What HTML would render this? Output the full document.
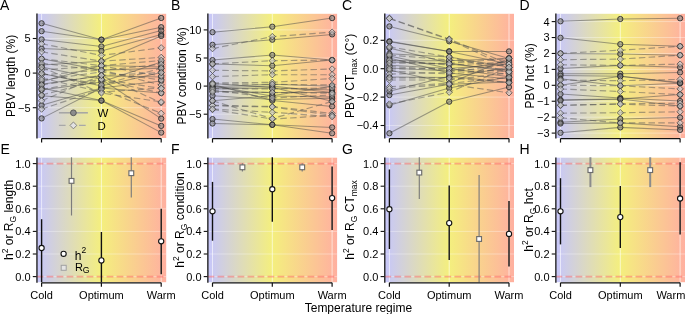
<!DOCTYPE html>
<html><head><meta charset="utf-8"><style>
html,body{margin:0;padding:0;background:#fff;overflow:hidden;}
svg{display:block;will-change:transform;}
text{fill:#000;}
</style></head><body>
<svg width="685" height="314" viewBox="0 0 685 314" font-family='"Liberation Sans", sans-serif'>
<defs>
<linearGradient id="bg" x1="0" y1="0" x2="1" y2="0"><stop offset="0" stop-color="rgb(198,198,252)"/><stop offset="0.5" stop-color="rgb(244,239,126)"/><stop offset="1" stop-color="rgb(255,176,160)"/></linearGradient>
</defs>
<rect width="685" height="314" fill="#fff"/>
<rect x="36.6" y="13.8" width="129.6" height="124.2" fill="url(#bg)"/>
<line x1="36.6" x2="166.2" y1="38.5" y2="38.5" stroke="#fff" stroke-opacity="0.35" stroke-width="1"/>
<line x1="36.6" x2="166.2" y1="73.1" y2="73.1" stroke="#fff" stroke-opacity="0.35" stroke-width="1"/>
<line x1="36.6" x2="166.2" y1="107.69999999999999" y2="107.69999999999999" stroke="#fff" stroke-opacity="0.35" stroke-width="1"/>
<line x1="41.6" x2="41.6" y1="13.8" y2="138.0" stroke="#fff" stroke-opacity="0.6" stroke-width="1"/>
<line x1="101.4" x2="101.4" y1="13.8" y2="138.0" stroke="#fff" stroke-opacity="0.6" stroke-width="1"/>
<line x1="161.2" x2="161.2" y1="13.8" y2="138.0" stroke="#fff" stroke-opacity="0.6" stroke-width="1"/>
<rect x="207.5" y="13.8" width="129.6" height="124.2" fill="url(#bg)"/>
<line x1="207.5" x2="337.1" y1="29.89999999999999" y2="29.89999999999999" stroke="#fff" stroke-opacity="0.35" stroke-width="1"/>
<line x1="207.5" x2="337.1" y1="57.99999999999999" y2="57.99999999999999" stroke="#fff" stroke-opacity="0.35" stroke-width="1"/>
<line x1="207.5" x2="337.1" y1="86.1" y2="86.1" stroke="#fff" stroke-opacity="0.35" stroke-width="1"/>
<line x1="207.5" x2="337.1" y1="114.19999999999999" y2="114.19999999999999" stroke="#fff" stroke-opacity="0.35" stroke-width="1"/>
<line x1="212.5" x2="212.5" y1="13.8" y2="138.0" stroke="#fff" stroke-opacity="0.6" stroke-width="1"/>
<line x1="272.3" x2="272.3" y1="13.8" y2="138.0" stroke="#fff" stroke-opacity="0.6" stroke-width="1"/>
<line x1="332.1" x2="332.1" y1="13.8" y2="138.0" stroke="#fff" stroke-opacity="0.6" stroke-width="1"/>
<rect x="384.4" y="13.8" width="129.6" height="124.2" fill="url(#bg)"/>
<line x1="384.4" x2="514.0" y1="40.3" y2="40.3" stroke="#fff" stroke-opacity="0.35" stroke-width="1"/>
<line x1="384.4" x2="514.0" y1="68.69999999999999" y2="68.69999999999999" stroke="#fff" stroke-opacity="0.35" stroke-width="1"/>
<line x1="384.4" x2="514.0" y1="97.1" y2="97.1" stroke="#fff" stroke-opacity="0.35" stroke-width="1"/>
<line x1="384.4" x2="514.0" y1="125.5" y2="125.5" stroke="#fff" stroke-opacity="0.35" stroke-width="1"/>
<line x1="389.4" x2="389.4" y1="13.8" y2="138.0" stroke="#fff" stroke-opacity="0.6" stroke-width="1"/>
<line x1="449.2" x2="449.2" y1="13.8" y2="138.0" stroke="#fff" stroke-opacity="0.6" stroke-width="1"/>
<line x1="509.0" x2="509.0" y1="13.8" y2="138.0" stroke="#fff" stroke-opacity="0.6" stroke-width="1"/>
<rect x="555.5" y="13.8" width="129.6" height="124.2" fill="url(#bg)"/>
<line x1="555.5" x2="685.1" y1="21.6" y2="21.6" stroke="#fff" stroke-opacity="0.35" stroke-width="1"/>
<line x1="555.5" x2="685.1" y1="37.52857142857143" y2="37.52857142857143" stroke="#fff" stroke-opacity="0.35" stroke-width="1"/>
<line x1="555.5" x2="685.1" y1="53.457142857142856" y2="53.457142857142856" stroke="#fff" stroke-opacity="0.35" stroke-width="1"/>
<line x1="555.5" x2="685.1" y1="69.38571428571429" y2="69.38571428571429" stroke="#fff" stroke-opacity="0.35" stroke-width="1"/>
<line x1="555.5" x2="685.1" y1="85.31428571428572" y2="85.31428571428572" stroke="#fff" stroke-opacity="0.35" stroke-width="1"/>
<line x1="555.5" x2="685.1" y1="101.24285714285713" y2="101.24285714285713" stroke="#fff" stroke-opacity="0.35" stroke-width="1"/>
<line x1="555.5" x2="685.1" y1="117.17142857142858" y2="117.17142857142858" stroke="#fff" stroke-opacity="0.35" stroke-width="1"/>
<line x1="555.5" x2="685.1" y1="133.1" y2="133.1" stroke="#fff" stroke-opacity="0.35" stroke-width="1"/>
<line x1="560.5" x2="560.5" y1="13.8" y2="138.0" stroke="#fff" stroke-opacity="0.6" stroke-width="1"/>
<line x1="620.3" x2="620.3" y1="13.8" y2="138.0" stroke="#fff" stroke-opacity="0.6" stroke-width="1"/>
<line x1="680.1" x2="680.1" y1="13.8" y2="138.0" stroke="#fff" stroke-opacity="0.6" stroke-width="1"/>
<rect x="36.6" y="157.7" width="129.6" height="124.5" fill="url(#bg)"/>
<line x1="36.6" x2="166.2" y1="163.6" y2="163.6" stroke="#fff" stroke-opacity="0.35" stroke-width="1"/>
<line x1="36.6" x2="166.2" y1="186.2" y2="186.2" stroke="#fff" stroke-opacity="0.35" stroke-width="1"/>
<line x1="36.6" x2="166.2" y1="208.8" y2="208.8" stroke="#fff" stroke-opacity="0.35" stroke-width="1"/>
<line x1="36.6" x2="166.2" y1="231.4" y2="231.4" stroke="#fff" stroke-opacity="0.35" stroke-width="1"/>
<line x1="36.6" x2="166.2" y1="254.0" y2="254.0" stroke="#fff" stroke-opacity="0.35" stroke-width="1"/>
<line x1="36.6" x2="166.2" y1="276.6" y2="276.6" stroke="#fff" stroke-opacity="0.35" stroke-width="1"/>
<line x1="41.6" x2="41.6" y1="157.7" y2="282.2" stroke="#fff" stroke-opacity="0.6" stroke-width="1"/>
<line x1="101.4" x2="101.4" y1="157.7" y2="282.2" stroke="#fff" stroke-opacity="0.6" stroke-width="1"/>
<line x1="161.2" x2="161.2" y1="157.7" y2="282.2" stroke="#fff" stroke-opacity="0.6" stroke-width="1"/>
<rect x="207.5" y="157.7" width="129.6" height="124.5" fill="url(#bg)"/>
<line x1="207.5" x2="337.1" y1="163.6" y2="163.6" stroke="#fff" stroke-opacity="0.35" stroke-width="1"/>
<line x1="207.5" x2="337.1" y1="186.2" y2="186.2" stroke="#fff" stroke-opacity="0.35" stroke-width="1"/>
<line x1="207.5" x2="337.1" y1="208.8" y2="208.8" stroke="#fff" stroke-opacity="0.35" stroke-width="1"/>
<line x1="207.5" x2="337.1" y1="231.4" y2="231.4" stroke="#fff" stroke-opacity="0.35" stroke-width="1"/>
<line x1="207.5" x2="337.1" y1="254.0" y2="254.0" stroke="#fff" stroke-opacity="0.35" stroke-width="1"/>
<line x1="207.5" x2="337.1" y1="276.6" y2="276.6" stroke="#fff" stroke-opacity="0.35" stroke-width="1"/>
<line x1="212.5" x2="212.5" y1="157.7" y2="282.2" stroke="#fff" stroke-opacity="0.6" stroke-width="1"/>
<line x1="272.3" x2="272.3" y1="157.7" y2="282.2" stroke="#fff" stroke-opacity="0.6" stroke-width="1"/>
<line x1="332.1" x2="332.1" y1="157.7" y2="282.2" stroke="#fff" stroke-opacity="0.6" stroke-width="1"/>
<rect x="384.4" y="157.7" width="129.6" height="124.5" fill="url(#bg)"/>
<line x1="384.4" x2="514.0" y1="163.6" y2="163.6" stroke="#fff" stroke-opacity="0.35" stroke-width="1"/>
<line x1="384.4" x2="514.0" y1="186.2" y2="186.2" stroke="#fff" stroke-opacity="0.35" stroke-width="1"/>
<line x1="384.4" x2="514.0" y1="208.8" y2="208.8" stroke="#fff" stroke-opacity="0.35" stroke-width="1"/>
<line x1="384.4" x2="514.0" y1="231.4" y2="231.4" stroke="#fff" stroke-opacity="0.35" stroke-width="1"/>
<line x1="384.4" x2="514.0" y1="254.0" y2="254.0" stroke="#fff" stroke-opacity="0.35" stroke-width="1"/>
<line x1="384.4" x2="514.0" y1="276.6" y2="276.6" stroke="#fff" stroke-opacity="0.35" stroke-width="1"/>
<line x1="389.4" x2="389.4" y1="157.7" y2="282.2" stroke="#fff" stroke-opacity="0.6" stroke-width="1"/>
<line x1="449.2" x2="449.2" y1="157.7" y2="282.2" stroke="#fff" stroke-opacity="0.6" stroke-width="1"/>
<line x1="509.0" x2="509.0" y1="157.7" y2="282.2" stroke="#fff" stroke-opacity="0.6" stroke-width="1"/>
<rect x="555.5" y="157.7" width="129.6" height="124.5" fill="url(#bg)"/>
<line x1="555.5" x2="685.1" y1="163.6" y2="163.6" stroke="#fff" stroke-opacity="0.35" stroke-width="1"/>
<line x1="555.5" x2="685.1" y1="186.2" y2="186.2" stroke="#fff" stroke-opacity="0.35" stroke-width="1"/>
<line x1="555.5" x2="685.1" y1="208.8" y2="208.8" stroke="#fff" stroke-opacity="0.35" stroke-width="1"/>
<line x1="555.5" x2="685.1" y1="231.4" y2="231.4" stroke="#fff" stroke-opacity="0.35" stroke-width="1"/>
<line x1="555.5" x2="685.1" y1="254.0" y2="254.0" stroke="#fff" stroke-opacity="0.35" stroke-width="1"/>
<line x1="555.5" x2="685.1" y1="276.6" y2="276.6" stroke="#fff" stroke-opacity="0.35" stroke-width="1"/>
<line x1="560.5" x2="560.5" y1="157.7" y2="282.2" stroke="#fff" stroke-opacity="0.6" stroke-width="1"/>
<line x1="620.3" x2="620.3" y1="157.7" y2="282.2" stroke="#fff" stroke-opacity="0.6" stroke-width="1"/>
<line x1="680.1" x2="680.1" y1="157.7" y2="282.2" stroke="#fff" stroke-opacity="0.6" stroke-width="1"/>
<g>
<polyline points="41.6,75 101.4,70 161.2,85" stroke="#555" stroke-opacity="0.5" stroke-width="1.15" fill="none" stroke-dasharray="6.5 3.3"/>
<polyline points="41.6,78 101.4,92 161.2,88" stroke="#555" stroke-opacity="0.5" stroke-width="1.15" fill="none" stroke-dasharray="6.5 3.3"/>
<polyline points="41.6,80 101.4,72 161.2,80" stroke="#555" stroke-opacity="0.5" stroke-width="1.15" fill="none" stroke-dasharray="6.5 3.3"/>
<polyline points="41.6,70 101.4,66 161.2,76" stroke="#555" stroke-opacity="0.5" stroke-width="1.15" fill="none" stroke-dasharray="6.5 3.3"/>
<polyline points="41.6,95 101.4,80 161.2,93" stroke="#555" stroke-opacity="0.5" stroke-width="1.15" fill="none" stroke-dasharray="6.5 3.3"/>
<polyline points="41.6,43.8 101.4,55.4 161.2,47.8" stroke="#555" stroke-opacity="0.5" stroke-width="1.15" fill="none" stroke-dasharray="6.5 3.3"/>
<polyline points="41.6,51.8 101.4,61.2 161.2,57.4" stroke="#555" stroke-opacity="0.5" stroke-width="1.15" fill="none" stroke-dasharray="6.5 3.3"/>
<polyline points="41.6,58.8 101.4,65.6 161.2,60.5" stroke="#555" stroke-opacity="0.5" stroke-width="1.15" fill="none" stroke-dasharray="6.5 3.3"/>
<polyline points="41.6,63.3 101.4,70.3 161.2,64.3" stroke="#555" stroke-opacity="0.5" stroke-width="1.15" fill="none" stroke-dasharray="6.5 3.3"/>
<polyline points="41.6,73.4 101.4,84.9 161.2,68.2" stroke="#555" stroke-opacity="0.5" stroke-width="1.15" fill="none" stroke-dasharray="6.5 3.3"/>
<polyline points="41.6,84.9 101.4,75.4 161.2,72.6" stroke="#555" stroke-opacity="0.5" stroke-width="1.15" fill="none" stroke-dasharray="6.5 3.3"/>
<polyline points="41.6,89.4 101.4,79.2 161.2,88.5" stroke="#555" stroke-opacity="0.5" stroke-width="1.15" fill="none" stroke-dasharray="6.5 3.3"/>
<polyline points="41.6,100.8 101.4,75.4 161.2,102.8" stroke="#555" stroke-opacity="0.5" stroke-width="1.15" fill="none" stroke-dasharray="6.5 3.3"/>
<polyline points="41.6,109.1 101.4,89.2 161.2,113.3" stroke="#555" stroke-opacity="0.5" stroke-width="1.15" fill="none" stroke-dasharray="6.5 3.3"/>
<polyline points="41.6,67.1 101.4,93 161.2,101.9" stroke="#555" stroke-opacity="0.5" stroke-width="1.15" fill="none" stroke-dasharray="6.5 3.3"/>
<polyline points="41.6,90 101.4,82 161.2,62" stroke="#4a4a4a" stroke-opacity="0.5" stroke-width="1.05" fill="none"/>
<polyline points="41.6,23.3 101.4,39.7 161.2,18" stroke="#4a4a4a" stroke-opacity="0.5" stroke-width="1.05" fill="none"/>
<polyline points="41.6,31.2 101.4,39.7 161.2,27.2" stroke="#4a4a4a" stroke-opacity="0.5" stroke-width="1.05" fill="none"/>
<polyline points="41.6,39.4 101.4,46.5 161.2,30.6" stroke="#4a4a4a" stroke-opacity="0.5" stroke-width="1.05" fill="none"/>
<polyline points="41.6,48.6 101.4,51 161.2,34.5" stroke="#4a4a4a" stroke-opacity="0.5" stroke-width="1.05" fill="none"/>
<polyline points="41.6,65 101.4,61.2 161.2,36" stroke="#4a4a4a" stroke-opacity="0.5" stroke-width="1.05" fill="none"/>
<polyline points="41.6,81.7 101.4,65.6 161.2,66.9" stroke="#4a4a4a" stroke-opacity="0.5" stroke-width="1.05" fill="none"/>
<polyline points="41.6,84.3 101.4,75.8 161.2,77.1" stroke="#4a4a4a" stroke-opacity="0.5" stroke-width="1.05" fill="none"/>
<polyline points="41.6,95.7 101.4,100.6 161.2,125.9" stroke="#4a4a4a" stroke-opacity="0.5" stroke-width="1.05" fill="none"/>
<polyline points="41.6,88 101.4,100.6 161.2,132.6" stroke="#4a4a4a" stroke-opacity="0.5" stroke-width="1.05" fill="none"/>
<polyline points="41.6,118.4 101.4,88 161.2,80.9" stroke="#4a4a4a" stroke-opacity="0.5" stroke-width="1.05" fill="none"/>
<polyline points="41.6,105.3 101.4,88 161.2,93" stroke="#4a4a4a" stroke-opacity="0.5" stroke-width="1.05" fill="none"/>
<polyline points="41.6,67.1 101.4,79.2 161.2,118.6" stroke="#4a4a4a" stroke-opacity="0.5" stroke-width="1.05" fill="none"/>
<polyline points="41.6,73.4 101.4,86 161.2,72.6" stroke="#4a4a4a" stroke-opacity="0.5" stroke-width="1.05" fill="none"/>
<polyline points="41.6,58.8 101.4,70.1 161.2,68.3" stroke="#4a4a4a" stroke-opacity="0.5" stroke-width="1.05" fill="none"/>
<circle cx="41.6" cy="90" r="2.65" fill="#7a7a7a" fill-opacity="0.55" stroke="#2a2a2a" stroke-opacity="0.85" stroke-width="1"/>
<circle cx="101.4" cy="82" r="2.65" fill="#7a7a7a" fill-opacity="0.55" stroke="#2a2a2a" stroke-opacity="0.85" stroke-width="1"/>
<circle cx="161.2" cy="62" r="2.65" fill="#7a7a7a" fill-opacity="0.55" stroke="#2a2a2a" stroke-opacity="0.85" stroke-width="1"/>
<circle cx="41.6" cy="23.3" r="2.65" fill="#7a7a7a" fill-opacity="0.55" stroke="#2a2a2a" stroke-opacity="0.85" stroke-width="1"/>
<circle cx="101.4" cy="39.7" r="2.65" fill="#7a7a7a" fill-opacity="0.55" stroke="#2a2a2a" stroke-opacity="0.85" stroke-width="1"/>
<circle cx="161.2" cy="18" r="2.65" fill="#7a7a7a" fill-opacity="0.55" stroke="#2a2a2a" stroke-opacity="0.85" stroke-width="1"/>
<circle cx="41.6" cy="31.2" r="2.65" fill="#7a7a7a" fill-opacity="0.55" stroke="#2a2a2a" stroke-opacity="0.85" stroke-width="1"/>
<circle cx="101.4" cy="39.7" r="2.65" fill="#7a7a7a" fill-opacity="0.55" stroke="#2a2a2a" stroke-opacity="0.85" stroke-width="1"/>
<circle cx="161.2" cy="27.2" r="2.65" fill="#7a7a7a" fill-opacity="0.55" stroke="#2a2a2a" stroke-opacity="0.85" stroke-width="1"/>
<circle cx="41.6" cy="39.4" r="2.65" fill="#7a7a7a" fill-opacity="0.55" stroke="#2a2a2a" stroke-opacity="0.85" stroke-width="1"/>
<circle cx="101.4" cy="46.5" r="2.65" fill="#7a7a7a" fill-opacity="0.55" stroke="#2a2a2a" stroke-opacity="0.85" stroke-width="1"/>
<circle cx="161.2" cy="30.6" r="2.65" fill="#7a7a7a" fill-opacity="0.55" stroke="#2a2a2a" stroke-opacity="0.85" stroke-width="1"/>
<circle cx="41.6" cy="48.6" r="2.65" fill="#7a7a7a" fill-opacity="0.55" stroke="#2a2a2a" stroke-opacity="0.85" stroke-width="1"/>
<circle cx="101.4" cy="51" r="2.65" fill="#7a7a7a" fill-opacity="0.55" stroke="#2a2a2a" stroke-opacity="0.85" stroke-width="1"/>
<circle cx="161.2" cy="34.5" r="2.65" fill="#7a7a7a" fill-opacity="0.55" stroke="#2a2a2a" stroke-opacity="0.85" stroke-width="1"/>
<circle cx="41.6" cy="65" r="2.65" fill="#7a7a7a" fill-opacity="0.55" stroke="#2a2a2a" stroke-opacity="0.85" stroke-width="1"/>
<circle cx="101.4" cy="61.2" r="2.65" fill="#7a7a7a" fill-opacity="0.55" stroke="#2a2a2a" stroke-opacity="0.85" stroke-width="1"/>
<circle cx="161.2" cy="36" r="2.65" fill="#7a7a7a" fill-opacity="0.55" stroke="#2a2a2a" stroke-opacity="0.85" stroke-width="1"/>
<circle cx="41.6" cy="81.7" r="2.65" fill="#7a7a7a" fill-opacity="0.55" stroke="#2a2a2a" stroke-opacity="0.85" stroke-width="1"/>
<circle cx="101.4" cy="65.6" r="2.65" fill="#7a7a7a" fill-opacity="0.55" stroke="#2a2a2a" stroke-opacity="0.85" stroke-width="1"/>
<circle cx="161.2" cy="66.9" r="2.65" fill="#7a7a7a" fill-opacity="0.55" stroke="#2a2a2a" stroke-opacity="0.85" stroke-width="1"/>
<circle cx="41.6" cy="84.3" r="2.65" fill="#7a7a7a" fill-opacity="0.55" stroke="#2a2a2a" stroke-opacity="0.85" stroke-width="1"/>
<circle cx="101.4" cy="75.8" r="2.65" fill="#7a7a7a" fill-opacity="0.55" stroke="#2a2a2a" stroke-opacity="0.85" stroke-width="1"/>
<circle cx="161.2" cy="77.1" r="2.65" fill="#7a7a7a" fill-opacity="0.55" stroke="#2a2a2a" stroke-opacity="0.85" stroke-width="1"/>
<circle cx="41.6" cy="95.7" r="2.65" fill="#7a7a7a" fill-opacity="0.55" stroke="#2a2a2a" stroke-opacity="0.85" stroke-width="1"/>
<circle cx="101.4" cy="100.6" r="2.65" fill="#7a7a7a" fill-opacity="0.55" stroke="#2a2a2a" stroke-opacity="0.85" stroke-width="1"/>
<circle cx="161.2" cy="125.9" r="2.65" fill="#7a7a7a" fill-opacity="0.55" stroke="#2a2a2a" stroke-opacity="0.85" stroke-width="1"/>
<circle cx="41.6" cy="88" r="2.65" fill="#7a7a7a" fill-opacity="0.55" stroke="#2a2a2a" stroke-opacity="0.85" stroke-width="1"/>
<circle cx="101.4" cy="100.6" r="2.65" fill="#7a7a7a" fill-opacity="0.55" stroke="#2a2a2a" stroke-opacity="0.85" stroke-width="1"/>
<circle cx="161.2" cy="132.6" r="2.65" fill="#7a7a7a" fill-opacity="0.55" stroke="#2a2a2a" stroke-opacity="0.85" stroke-width="1"/>
<circle cx="41.6" cy="118.4" r="2.65" fill="#7a7a7a" fill-opacity="0.55" stroke="#2a2a2a" stroke-opacity="0.85" stroke-width="1"/>
<circle cx="101.4" cy="88" r="2.65" fill="#7a7a7a" fill-opacity="0.55" stroke="#2a2a2a" stroke-opacity="0.85" stroke-width="1"/>
<circle cx="161.2" cy="80.9" r="2.65" fill="#7a7a7a" fill-opacity="0.55" stroke="#2a2a2a" stroke-opacity="0.85" stroke-width="1"/>
<circle cx="41.6" cy="105.3" r="2.65" fill="#7a7a7a" fill-opacity="0.55" stroke="#2a2a2a" stroke-opacity="0.85" stroke-width="1"/>
<circle cx="101.4" cy="88" r="2.65" fill="#7a7a7a" fill-opacity="0.55" stroke="#2a2a2a" stroke-opacity="0.85" stroke-width="1"/>
<circle cx="161.2" cy="93" r="2.65" fill="#7a7a7a" fill-opacity="0.55" stroke="#2a2a2a" stroke-opacity="0.85" stroke-width="1"/>
<circle cx="41.6" cy="67.1" r="2.65" fill="#7a7a7a" fill-opacity="0.55" stroke="#2a2a2a" stroke-opacity="0.85" stroke-width="1"/>
<circle cx="101.4" cy="79.2" r="2.65" fill="#7a7a7a" fill-opacity="0.55" stroke="#2a2a2a" stroke-opacity="0.85" stroke-width="1"/>
<circle cx="161.2" cy="118.6" r="2.65" fill="#7a7a7a" fill-opacity="0.55" stroke="#2a2a2a" stroke-opacity="0.85" stroke-width="1"/>
<circle cx="41.6" cy="73.4" r="2.65" fill="#7a7a7a" fill-opacity="0.55" stroke="#2a2a2a" stroke-opacity="0.85" stroke-width="1"/>
<circle cx="101.4" cy="86" r="2.65" fill="#7a7a7a" fill-opacity="0.55" stroke="#2a2a2a" stroke-opacity="0.85" stroke-width="1"/>
<circle cx="161.2" cy="72.6" r="2.65" fill="#7a7a7a" fill-opacity="0.55" stroke="#2a2a2a" stroke-opacity="0.85" stroke-width="1"/>
<circle cx="41.6" cy="58.8" r="2.65" fill="#7a7a7a" fill-opacity="0.55" stroke="#2a2a2a" stroke-opacity="0.85" stroke-width="1"/>
<circle cx="101.4" cy="70.1" r="2.65" fill="#7a7a7a" fill-opacity="0.55" stroke="#2a2a2a" stroke-opacity="0.85" stroke-width="1"/>
<circle cx="161.2" cy="68.3" r="2.65" fill="#7a7a7a" fill-opacity="0.55" stroke="#2a2a2a" stroke-opacity="0.85" stroke-width="1"/>
<path d="M41.6 71.8L44.8 75L41.6 78.2L38.4 75Z" fill="#c4c4c4" fill-opacity="0.6" stroke="#383838" stroke-opacity="0.75" stroke-width="0.9"/>
<path d="M101.4 66.8L104.6 70L101.4 73.2L98.2 70Z" fill="#c4c4c4" fill-opacity="0.6" stroke="#383838" stroke-opacity="0.75" stroke-width="0.9"/>
<path d="M161.2 81.8L164.4 85L161.2 88.2L158 85Z" fill="#c4c4c4" fill-opacity="0.6" stroke="#383838" stroke-opacity="0.75" stroke-width="0.9"/>
<path d="M41.6 74.8L44.8 78L41.6 81.2L38.4 78Z" fill="#c4c4c4" fill-opacity="0.6" stroke="#383838" stroke-opacity="0.75" stroke-width="0.9"/>
<path d="M101.4 88.8L104.6 92L101.4 95.2L98.2 92Z" fill="#c4c4c4" fill-opacity="0.6" stroke="#383838" stroke-opacity="0.75" stroke-width="0.9"/>
<path d="M161.2 84.8L164.4 88L161.2 91.2L158 88Z" fill="#c4c4c4" fill-opacity="0.6" stroke="#383838" stroke-opacity="0.75" stroke-width="0.9"/>
<path d="M41.6 76.8L44.8 80L41.6 83.2L38.4 80Z" fill="#c4c4c4" fill-opacity="0.6" stroke="#383838" stroke-opacity="0.75" stroke-width="0.9"/>
<path d="M101.4 68.8L104.6 72L101.4 75.2L98.2 72Z" fill="#c4c4c4" fill-opacity="0.6" stroke="#383838" stroke-opacity="0.75" stroke-width="0.9"/>
<path d="M161.2 76.8L164.4 80L161.2 83.2L158 80Z" fill="#c4c4c4" fill-opacity="0.6" stroke="#383838" stroke-opacity="0.75" stroke-width="0.9"/>
<path d="M41.6 66.8L44.8 70L41.6 73.2L38.4 70Z" fill="#c4c4c4" fill-opacity="0.6" stroke="#383838" stroke-opacity="0.75" stroke-width="0.9"/>
<path d="M101.4 62.8L104.6 66L101.4 69.2L98.2 66Z" fill="#c4c4c4" fill-opacity="0.6" stroke="#383838" stroke-opacity="0.75" stroke-width="0.9"/>
<path d="M161.2 72.8L164.4 76L161.2 79.2L158 76Z" fill="#c4c4c4" fill-opacity="0.6" stroke="#383838" stroke-opacity="0.75" stroke-width="0.9"/>
<path d="M41.6 91.8L44.8 95L41.6 98.2L38.4 95Z" fill="#c4c4c4" fill-opacity="0.6" stroke="#383838" stroke-opacity="0.75" stroke-width="0.9"/>
<path d="M101.4 76.8L104.6 80L101.4 83.2L98.2 80Z" fill="#c4c4c4" fill-opacity="0.6" stroke="#383838" stroke-opacity="0.75" stroke-width="0.9"/>
<path d="M161.2 89.8L164.4 93L161.2 96.2L158 93Z" fill="#c4c4c4" fill-opacity="0.6" stroke="#383838" stroke-opacity="0.75" stroke-width="0.9"/>
<path d="M41.6 40.6L44.8 43.8L41.6 47L38.4 43.8Z" fill="#c4c4c4" fill-opacity="0.6" stroke="#383838" stroke-opacity="0.75" stroke-width="0.9"/>
<path d="M101.4 52.2L104.6 55.4L101.4 58.6L98.2 55.4Z" fill="#c4c4c4" fill-opacity="0.6" stroke="#383838" stroke-opacity="0.75" stroke-width="0.9"/>
<path d="M161.2 44.6L164.4 47.8L161.2 51L158 47.8Z" fill="#c4c4c4" fill-opacity="0.6" stroke="#383838" stroke-opacity="0.75" stroke-width="0.9"/>
<path d="M41.6 48.6L44.8 51.8L41.6 55L38.4 51.8Z" fill="#c4c4c4" fill-opacity="0.6" stroke="#383838" stroke-opacity="0.75" stroke-width="0.9"/>
<path d="M101.4 58L104.6 61.2L101.4 64.4L98.2 61.2Z" fill="#c4c4c4" fill-opacity="0.6" stroke="#383838" stroke-opacity="0.75" stroke-width="0.9"/>
<path d="M161.2 54.2L164.4 57.4L161.2 60.6L158 57.4Z" fill="#c4c4c4" fill-opacity="0.6" stroke="#383838" stroke-opacity="0.75" stroke-width="0.9"/>
<path d="M41.6 55.6L44.8 58.8L41.6 62L38.4 58.8Z" fill="#c4c4c4" fill-opacity="0.6" stroke="#383838" stroke-opacity="0.75" stroke-width="0.9"/>
<path d="M101.4 62.4L104.6 65.6L101.4 68.8L98.2 65.6Z" fill="#c4c4c4" fill-opacity="0.6" stroke="#383838" stroke-opacity="0.75" stroke-width="0.9"/>
<path d="M161.2 57.3L164.4 60.5L161.2 63.7L158 60.5Z" fill="#c4c4c4" fill-opacity="0.6" stroke="#383838" stroke-opacity="0.75" stroke-width="0.9"/>
<path d="M41.6 60.1L44.8 63.3L41.6 66.5L38.4 63.3Z" fill="#c4c4c4" fill-opacity="0.6" stroke="#383838" stroke-opacity="0.75" stroke-width="0.9"/>
<path d="M101.4 67.1L104.6 70.3L101.4 73.5L98.2 70.3Z" fill="#c4c4c4" fill-opacity="0.6" stroke="#383838" stroke-opacity="0.75" stroke-width="0.9"/>
<path d="M161.2 61.1L164.4 64.3L161.2 67.5L158 64.3Z" fill="#c4c4c4" fill-opacity="0.6" stroke="#383838" stroke-opacity="0.75" stroke-width="0.9"/>
<path d="M41.6 70.2L44.8 73.4L41.6 76.6L38.4 73.4Z" fill="#c4c4c4" fill-opacity="0.6" stroke="#383838" stroke-opacity="0.75" stroke-width="0.9"/>
<path d="M101.4 81.7L104.6 84.9L101.4 88.1L98.2 84.9Z" fill="#c4c4c4" fill-opacity="0.6" stroke="#383838" stroke-opacity="0.75" stroke-width="0.9"/>
<path d="M161.2 65L164.4 68.2L161.2 71.4L158 68.2Z" fill="#c4c4c4" fill-opacity="0.6" stroke="#383838" stroke-opacity="0.75" stroke-width="0.9"/>
<path d="M41.6 81.7L44.8 84.9L41.6 88.1L38.4 84.9Z" fill="#c4c4c4" fill-opacity="0.6" stroke="#383838" stroke-opacity="0.75" stroke-width="0.9"/>
<path d="M101.4 72.2L104.6 75.4L101.4 78.6L98.2 75.4Z" fill="#c4c4c4" fill-opacity="0.6" stroke="#383838" stroke-opacity="0.75" stroke-width="0.9"/>
<path d="M161.2 69.4L164.4 72.6L161.2 75.8L158 72.6Z" fill="#c4c4c4" fill-opacity="0.6" stroke="#383838" stroke-opacity="0.75" stroke-width="0.9"/>
<path d="M41.6 86.2L44.8 89.4L41.6 92.6L38.4 89.4Z" fill="#c4c4c4" fill-opacity="0.6" stroke="#383838" stroke-opacity="0.75" stroke-width="0.9"/>
<path d="M101.4 76L104.6 79.2L101.4 82.4L98.2 79.2Z" fill="#c4c4c4" fill-opacity="0.6" stroke="#383838" stroke-opacity="0.75" stroke-width="0.9"/>
<path d="M161.2 85.3L164.4 88.5L161.2 91.7L158 88.5Z" fill="#c4c4c4" fill-opacity="0.6" stroke="#383838" stroke-opacity="0.75" stroke-width="0.9"/>
<path d="M41.6 97.6L44.8 100.8L41.6 104L38.4 100.8Z" fill="#c4c4c4" fill-opacity="0.6" stroke="#383838" stroke-opacity="0.75" stroke-width="0.9"/>
<path d="M101.4 72.2L104.6 75.4L101.4 78.6L98.2 75.4Z" fill="#c4c4c4" fill-opacity="0.6" stroke="#383838" stroke-opacity="0.75" stroke-width="0.9"/>
<path d="M161.2 99.6L164.4 102.8L161.2 106L158 102.8Z" fill="#c4c4c4" fill-opacity="0.6" stroke="#383838" stroke-opacity="0.75" stroke-width="0.9"/>
<path d="M41.6 105.9L44.8 109.1L41.6 112.3L38.4 109.1Z" fill="#c4c4c4" fill-opacity="0.6" stroke="#383838" stroke-opacity="0.75" stroke-width="0.9"/>
<path d="M101.4 86L104.6 89.2L101.4 92.4L98.2 89.2Z" fill="#c4c4c4" fill-opacity="0.6" stroke="#383838" stroke-opacity="0.75" stroke-width="0.9"/>
<path d="M161.2 110.1L164.4 113.3L161.2 116.5L158 113.3Z" fill="#c4c4c4" fill-opacity="0.6" stroke="#383838" stroke-opacity="0.75" stroke-width="0.9"/>
<path d="M41.6 63.9L44.8 67.1L41.6 70.3L38.4 67.1Z" fill="#c4c4c4" fill-opacity="0.6" stroke="#383838" stroke-opacity="0.75" stroke-width="0.9"/>
<path d="M101.4 89.8L104.6 93L101.4 96.2L98.2 93Z" fill="#c4c4c4" fill-opacity="0.6" stroke="#383838" stroke-opacity="0.75" stroke-width="0.9"/>
<path d="M161.2 98.7L164.4 101.9L161.2 105.1L158 101.9Z" fill="#c4c4c4" fill-opacity="0.6" stroke="#383838" stroke-opacity="0.75" stroke-width="0.9"/>
</g>
<g>
<polyline points="212.5,88.5 272.3,89 332.1,88" stroke="#555" stroke-opacity="0.5" stroke-width="1.15" fill="none" stroke-dasharray="6.5 3.3"/>
<polyline points="212.5,90 272.3,98 332.1,95" stroke="#555" stroke-opacity="0.5" stroke-width="1.15" fill="none" stroke-dasharray="6.5 3.3"/>
<polyline points="212.5,48.6 272.3,36.6 332.1,32.2" stroke="#555" stroke-opacity="0.5" stroke-width="1.15" fill="none" stroke-dasharray="6.5 3.3"/>
<polyline points="212.5,63.9 272.3,60.7 332.1,60.1" stroke="#555" stroke-opacity="0.5" stroke-width="1.15" fill="none" stroke-dasharray="6.5 3.3"/>
<polyline points="212.5,70.3 272.3,70.9 332.1,69" stroke="#555" stroke-opacity="0.5" stroke-width="1.15" fill="none" stroke-dasharray="6.5 3.3"/>
<polyline points="212.5,76.6 272.3,74.7 332.1,74.7" stroke="#555" stroke-opacity="0.5" stroke-width="1.15" fill="none" stroke-dasharray="6.5 3.3"/>
<polyline points="212.5,83 272.3,82.3 332.1,78.5" stroke="#555" stroke-opacity="0.5" stroke-width="1.15" fill="none" stroke-dasharray="6.5 3.3"/>
<polyline points="212.5,84 272.3,84.3 332.1,85" stroke="#555" stroke-opacity="0.5" stroke-width="1.15" fill="none" stroke-dasharray="6.5 3.3"/>
<polyline points="212.5,92 272.3,92.5 332.1,93.2" stroke="#555" stroke-opacity="0.5" stroke-width="1.15" fill="none" stroke-dasharray="6.5 3.3"/>
<polyline points="212.5,105.3 272.3,106.5 332.1,113.5" stroke="#555" stroke-opacity="0.5" stroke-width="1.15" fill="none" stroke-dasharray="6.5 3.3"/>
<polyline points="212.5,105.7 272.3,107 332.1,115.3" stroke="#555" stroke-opacity="0.5" stroke-width="1.15" fill="none" stroke-dasharray="6.5 3.3"/>
<polyline points="212.5,109.5 272.3,119.1 332.1,115.3" stroke="#555" stroke-opacity="0.5" stroke-width="1.15" fill="none" stroke-dasharray="6.5 3.3"/>
<polyline points="212.5,109.1 272.3,112.3 332.1,116.7" stroke="#555" stroke-opacity="0.5" stroke-width="1.15" fill="none" stroke-dasharray="6.5 3.3"/>
<polyline points="212.5,100.8 272.3,118.6 332.1,101.4" stroke="#555" stroke-opacity="0.5" stroke-width="1.15" fill="none" stroke-dasharray="6.5 3.3"/>
<polyline points="212.5,89 272.3,88 332.1,90" stroke="#4a4a4a" stroke-opacity="0.5" stroke-width="1.05" fill="none"/>
<polyline points="212.5,86 272.3,96 332.1,97" stroke="#4a4a4a" stroke-opacity="0.5" stroke-width="1.05" fill="none"/>
<polyline points="212.5,32.2 272.3,26.7 332.1,18.1" stroke="#4a4a4a" stroke-opacity="0.5" stroke-width="1.05" fill="none"/>
<polyline points="212.5,44.8 272.3,39.7 332.1,34.4" stroke="#4a4a4a" stroke-opacity="0.5" stroke-width="1.05" fill="none"/>
<polyline points="212.5,60.1 272.3,55 332.1,60.1" stroke="#4a4a4a" stroke-opacity="0.5" stroke-width="1.05" fill="none"/>
<polyline points="212.5,63.9 272.3,65.8 332.1,60.1" stroke="#4a4a4a" stroke-opacity="0.5" stroke-width="1.05" fill="none"/>
<polyline points="212.5,86.8 272.3,84.3 332.1,86.2" stroke="#4a4a4a" stroke-opacity="0.5" stroke-width="1.05" fill="none"/>
<polyline points="212.5,91.3 272.3,92.5 332.1,92.5" stroke="#4a4a4a" stroke-opacity="0.5" stroke-width="1.05" fill="none"/>
<polyline points="212.5,95.7 272.3,99.5 332.1,98.3" stroke="#4a4a4a" stroke-opacity="0.5" stroke-width="1.05" fill="none"/>
<polyline points="212.5,100.8 272.3,95.7 332.1,86.2" stroke="#4a4a4a" stroke-opacity="0.5" stroke-width="1.05" fill="none"/>
<polyline points="212.5,83.6 272.3,87.5 332.1,101.3" stroke="#4a4a4a" stroke-opacity="0.5" stroke-width="1.05" fill="none"/>
<polyline points="212.5,119.1 272.3,124.8 332.1,127.4" stroke="#4a4a4a" stroke-opacity="0.5" stroke-width="1.05" fill="none"/>
<polyline points="212.5,123.5 272.3,124.8 332.1,133.3" stroke="#4a4a4a" stroke-opacity="0.5" stroke-width="1.05" fill="none"/>
<polyline points="212.5,84.3 272.3,100.6 332.1,106.4" stroke="#4a4a4a" stroke-opacity="0.5" stroke-width="1.05" fill="none"/>
<polyline points="212.5,88 272.3,86 332.1,92.5" stroke="#4a4a4a" stroke-opacity="0.5" stroke-width="1.05" fill="none"/>
<circle cx="212.5" cy="89" r="2.65" fill="#7a7a7a" fill-opacity="0.55" stroke="#2a2a2a" stroke-opacity="0.85" stroke-width="1"/>
<circle cx="272.3" cy="88" r="2.65" fill="#7a7a7a" fill-opacity="0.55" stroke="#2a2a2a" stroke-opacity="0.85" stroke-width="1"/>
<circle cx="332.1" cy="90" r="2.65" fill="#7a7a7a" fill-opacity="0.55" stroke="#2a2a2a" stroke-opacity="0.85" stroke-width="1"/>
<circle cx="212.5" cy="86" r="2.65" fill="#7a7a7a" fill-opacity="0.55" stroke="#2a2a2a" stroke-opacity="0.85" stroke-width="1"/>
<circle cx="272.3" cy="96" r="2.65" fill="#7a7a7a" fill-opacity="0.55" stroke="#2a2a2a" stroke-opacity="0.85" stroke-width="1"/>
<circle cx="332.1" cy="97" r="2.65" fill="#7a7a7a" fill-opacity="0.55" stroke="#2a2a2a" stroke-opacity="0.85" stroke-width="1"/>
<circle cx="212.5" cy="32.2" r="2.65" fill="#7a7a7a" fill-opacity="0.55" stroke="#2a2a2a" stroke-opacity="0.85" stroke-width="1"/>
<circle cx="272.3" cy="26.7" r="2.65" fill="#7a7a7a" fill-opacity="0.55" stroke="#2a2a2a" stroke-opacity="0.85" stroke-width="1"/>
<circle cx="332.1" cy="18.1" r="2.65" fill="#7a7a7a" fill-opacity="0.55" stroke="#2a2a2a" stroke-opacity="0.85" stroke-width="1"/>
<circle cx="212.5" cy="44.8" r="2.65" fill="#7a7a7a" fill-opacity="0.55" stroke="#2a2a2a" stroke-opacity="0.85" stroke-width="1"/>
<circle cx="272.3" cy="39.7" r="2.65" fill="#7a7a7a" fill-opacity="0.55" stroke="#2a2a2a" stroke-opacity="0.85" stroke-width="1"/>
<circle cx="332.1" cy="34.4" r="2.65" fill="#7a7a7a" fill-opacity="0.55" stroke="#2a2a2a" stroke-opacity="0.85" stroke-width="1"/>
<circle cx="212.5" cy="60.1" r="2.65" fill="#7a7a7a" fill-opacity="0.55" stroke="#2a2a2a" stroke-opacity="0.85" stroke-width="1"/>
<circle cx="272.3" cy="55" r="2.65" fill="#7a7a7a" fill-opacity="0.55" stroke="#2a2a2a" stroke-opacity="0.85" stroke-width="1"/>
<circle cx="332.1" cy="60.1" r="2.65" fill="#7a7a7a" fill-opacity="0.55" stroke="#2a2a2a" stroke-opacity="0.85" stroke-width="1"/>
<circle cx="212.5" cy="63.9" r="2.65" fill="#7a7a7a" fill-opacity="0.55" stroke="#2a2a2a" stroke-opacity="0.85" stroke-width="1"/>
<circle cx="272.3" cy="65.8" r="2.65" fill="#7a7a7a" fill-opacity="0.55" stroke="#2a2a2a" stroke-opacity="0.85" stroke-width="1"/>
<circle cx="332.1" cy="60.1" r="2.65" fill="#7a7a7a" fill-opacity="0.55" stroke="#2a2a2a" stroke-opacity="0.85" stroke-width="1"/>
<circle cx="212.5" cy="86.8" r="2.65" fill="#7a7a7a" fill-opacity="0.55" stroke="#2a2a2a" stroke-opacity="0.85" stroke-width="1"/>
<circle cx="272.3" cy="84.3" r="2.65" fill="#7a7a7a" fill-opacity="0.55" stroke="#2a2a2a" stroke-opacity="0.85" stroke-width="1"/>
<circle cx="332.1" cy="86.2" r="2.65" fill="#7a7a7a" fill-opacity="0.55" stroke="#2a2a2a" stroke-opacity="0.85" stroke-width="1"/>
<circle cx="212.5" cy="91.3" r="2.65" fill="#7a7a7a" fill-opacity="0.55" stroke="#2a2a2a" stroke-opacity="0.85" stroke-width="1"/>
<circle cx="272.3" cy="92.5" r="2.65" fill="#7a7a7a" fill-opacity="0.55" stroke="#2a2a2a" stroke-opacity="0.85" stroke-width="1"/>
<circle cx="332.1" cy="92.5" r="2.65" fill="#7a7a7a" fill-opacity="0.55" stroke="#2a2a2a" stroke-opacity="0.85" stroke-width="1"/>
<circle cx="212.5" cy="95.7" r="2.65" fill="#7a7a7a" fill-opacity="0.55" stroke="#2a2a2a" stroke-opacity="0.85" stroke-width="1"/>
<circle cx="272.3" cy="99.5" r="2.65" fill="#7a7a7a" fill-opacity="0.55" stroke="#2a2a2a" stroke-opacity="0.85" stroke-width="1"/>
<circle cx="332.1" cy="98.3" r="2.65" fill="#7a7a7a" fill-opacity="0.55" stroke="#2a2a2a" stroke-opacity="0.85" stroke-width="1"/>
<circle cx="212.5" cy="100.8" r="2.65" fill="#7a7a7a" fill-opacity="0.55" stroke="#2a2a2a" stroke-opacity="0.85" stroke-width="1"/>
<circle cx="272.3" cy="95.7" r="2.65" fill="#7a7a7a" fill-opacity="0.55" stroke="#2a2a2a" stroke-opacity="0.85" stroke-width="1"/>
<circle cx="332.1" cy="86.2" r="2.65" fill="#7a7a7a" fill-opacity="0.55" stroke="#2a2a2a" stroke-opacity="0.85" stroke-width="1"/>
<circle cx="212.5" cy="83.6" r="2.65" fill="#7a7a7a" fill-opacity="0.55" stroke="#2a2a2a" stroke-opacity="0.85" stroke-width="1"/>
<circle cx="272.3" cy="87.5" r="2.65" fill="#7a7a7a" fill-opacity="0.55" stroke="#2a2a2a" stroke-opacity="0.85" stroke-width="1"/>
<circle cx="332.1" cy="101.3" r="2.65" fill="#7a7a7a" fill-opacity="0.55" stroke="#2a2a2a" stroke-opacity="0.85" stroke-width="1"/>
<circle cx="212.5" cy="119.1" r="2.65" fill="#7a7a7a" fill-opacity="0.55" stroke="#2a2a2a" stroke-opacity="0.85" stroke-width="1"/>
<circle cx="272.3" cy="124.8" r="2.65" fill="#7a7a7a" fill-opacity="0.55" stroke="#2a2a2a" stroke-opacity="0.85" stroke-width="1"/>
<circle cx="332.1" cy="127.4" r="2.65" fill="#7a7a7a" fill-opacity="0.55" stroke="#2a2a2a" stroke-opacity="0.85" stroke-width="1"/>
<circle cx="212.5" cy="123.5" r="2.65" fill="#7a7a7a" fill-opacity="0.55" stroke="#2a2a2a" stroke-opacity="0.85" stroke-width="1"/>
<circle cx="272.3" cy="124.8" r="2.65" fill="#7a7a7a" fill-opacity="0.55" stroke="#2a2a2a" stroke-opacity="0.85" stroke-width="1"/>
<circle cx="332.1" cy="133.3" r="2.65" fill="#7a7a7a" fill-opacity="0.55" stroke="#2a2a2a" stroke-opacity="0.85" stroke-width="1"/>
<circle cx="212.5" cy="84.3" r="2.65" fill="#7a7a7a" fill-opacity="0.55" stroke="#2a2a2a" stroke-opacity="0.85" stroke-width="1"/>
<circle cx="272.3" cy="100.6" r="2.65" fill="#7a7a7a" fill-opacity="0.55" stroke="#2a2a2a" stroke-opacity="0.85" stroke-width="1"/>
<circle cx="332.1" cy="106.4" r="2.65" fill="#7a7a7a" fill-opacity="0.55" stroke="#2a2a2a" stroke-opacity="0.85" stroke-width="1"/>
<circle cx="212.5" cy="88" r="2.65" fill="#7a7a7a" fill-opacity="0.55" stroke="#2a2a2a" stroke-opacity="0.85" stroke-width="1"/>
<circle cx="272.3" cy="86" r="2.65" fill="#7a7a7a" fill-opacity="0.55" stroke="#2a2a2a" stroke-opacity="0.85" stroke-width="1"/>
<circle cx="332.1" cy="92.5" r="2.65" fill="#7a7a7a" fill-opacity="0.55" stroke="#2a2a2a" stroke-opacity="0.85" stroke-width="1"/>
<path d="M212.5 85.3L215.7 88.5L212.5 91.7L209.3 88.5Z" fill="#c4c4c4" fill-opacity="0.6" stroke="#383838" stroke-opacity="0.75" stroke-width="0.9"/>
<path d="M272.3 85.8L275.5 89L272.3 92.2L269.1 89Z" fill="#c4c4c4" fill-opacity="0.6" stroke="#383838" stroke-opacity="0.75" stroke-width="0.9"/>
<path d="M332.1 84.8L335.3 88L332.1 91.2L328.9 88Z" fill="#c4c4c4" fill-opacity="0.6" stroke="#383838" stroke-opacity="0.75" stroke-width="0.9"/>
<path d="M212.5 86.8L215.7 90L212.5 93.2L209.3 90Z" fill="#c4c4c4" fill-opacity="0.6" stroke="#383838" stroke-opacity="0.75" stroke-width="0.9"/>
<path d="M272.3 94.8L275.5 98L272.3 101.2L269.1 98Z" fill="#c4c4c4" fill-opacity="0.6" stroke="#383838" stroke-opacity="0.75" stroke-width="0.9"/>
<path d="M332.1 91.8L335.3 95L332.1 98.2L328.9 95Z" fill="#c4c4c4" fill-opacity="0.6" stroke="#383838" stroke-opacity="0.75" stroke-width="0.9"/>
<path d="M212.5 45.4L215.7 48.6L212.5 51.8L209.3 48.6Z" fill="#c4c4c4" fill-opacity="0.6" stroke="#383838" stroke-opacity="0.75" stroke-width="0.9"/>
<path d="M272.3 33.4L275.5 36.6L272.3 39.8L269.1 36.6Z" fill="#c4c4c4" fill-opacity="0.6" stroke="#383838" stroke-opacity="0.75" stroke-width="0.9"/>
<path d="M332.1 29L335.3 32.2L332.1 35.4L328.9 32.2Z" fill="#c4c4c4" fill-opacity="0.6" stroke="#383838" stroke-opacity="0.75" stroke-width="0.9"/>
<path d="M212.5 60.7L215.7 63.9L212.5 67.1L209.3 63.9Z" fill="#c4c4c4" fill-opacity="0.6" stroke="#383838" stroke-opacity="0.75" stroke-width="0.9"/>
<path d="M272.3 57.5L275.5 60.7L272.3 63.9L269.1 60.7Z" fill="#c4c4c4" fill-opacity="0.6" stroke="#383838" stroke-opacity="0.75" stroke-width="0.9"/>
<path d="M332.1 56.9L335.3 60.1L332.1 63.3L328.9 60.1Z" fill="#c4c4c4" fill-opacity="0.6" stroke="#383838" stroke-opacity="0.75" stroke-width="0.9"/>
<path d="M212.5 67.1L215.7 70.3L212.5 73.5L209.3 70.3Z" fill="#c4c4c4" fill-opacity="0.6" stroke="#383838" stroke-opacity="0.75" stroke-width="0.9"/>
<path d="M272.3 67.7L275.5 70.9L272.3 74.1L269.1 70.9Z" fill="#c4c4c4" fill-opacity="0.6" stroke="#383838" stroke-opacity="0.75" stroke-width="0.9"/>
<path d="M332.1 65.8L335.3 69L332.1 72.2L328.9 69Z" fill="#c4c4c4" fill-opacity="0.6" stroke="#383838" stroke-opacity="0.75" stroke-width="0.9"/>
<path d="M212.5 73.4L215.7 76.6L212.5 79.8L209.3 76.6Z" fill="#c4c4c4" fill-opacity="0.6" stroke="#383838" stroke-opacity="0.75" stroke-width="0.9"/>
<path d="M272.3 71.5L275.5 74.7L272.3 77.9L269.1 74.7Z" fill="#c4c4c4" fill-opacity="0.6" stroke="#383838" stroke-opacity="0.75" stroke-width="0.9"/>
<path d="M332.1 71.5L335.3 74.7L332.1 77.9L328.9 74.7Z" fill="#c4c4c4" fill-opacity="0.6" stroke="#383838" stroke-opacity="0.75" stroke-width="0.9"/>
<path d="M212.5 79.8L215.7 83L212.5 86.2L209.3 83Z" fill="#c4c4c4" fill-opacity="0.6" stroke="#383838" stroke-opacity="0.75" stroke-width="0.9"/>
<path d="M272.3 79.1L275.5 82.3L272.3 85.5L269.1 82.3Z" fill="#c4c4c4" fill-opacity="0.6" stroke="#383838" stroke-opacity="0.75" stroke-width="0.9"/>
<path d="M332.1 75.3L335.3 78.5L332.1 81.7L328.9 78.5Z" fill="#c4c4c4" fill-opacity="0.6" stroke="#383838" stroke-opacity="0.75" stroke-width="0.9"/>
<path d="M212.5 80.8L215.7 84L212.5 87.2L209.3 84Z" fill="#c4c4c4" fill-opacity="0.6" stroke="#383838" stroke-opacity="0.75" stroke-width="0.9"/>
<path d="M272.3 81.1L275.5 84.3L272.3 87.5L269.1 84.3Z" fill="#c4c4c4" fill-opacity="0.6" stroke="#383838" stroke-opacity="0.75" stroke-width="0.9"/>
<path d="M332.1 81.8L335.3 85L332.1 88.2L328.9 85Z" fill="#c4c4c4" fill-opacity="0.6" stroke="#383838" stroke-opacity="0.75" stroke-width="0.9"/>
<path d="M212.5 88.8L215.7 92L212.5 95.2L209.3 92Z" fill="#c4c4c4" fill-opacity="0.6" stroke="#383838" stroke-opacity="0.75" stroke-width="0.9"/>
<path d="M272.3 89.3L275.5 92.5L272.3 95.7L269.1 92.5Z" fill="#c4c4c4" fill-opacity="0.6" stroke="#383838" stroke-opacity="0.75" stroke-width="0.9"/>
<path d="M332.1 90L335.3 93.2L332.1 96.4L328.9 93.2Z" fill="#c4c4c4" fill-opacity="0.6" stroke="#383838" stroke-opacity="0.75" stroke-width="0.9"/>
<path d="M212.5 102.1L215.7 105.3L212.5 108.5L209.3 105.3Z" fill="#c4c4c4" fill-opacity="0.6" stroke="#383838" stroke-opacity="0.75" stroke-width="0.9"/>
<path d="M272.3 103.3L275.5 106.5L272.3 109.7L269.1 106.5Z" fill="#c4c4c4" fill-opacity="0.6" stroke="#383838" stroke-opacity="0.75" stroke-width="0.9"/>
<path d="M332.1 110.3L335.3 113.5L332.1 116.7L328.9 113.5Z" fill="#c4c4c4" fill-opacity="0.6" stroke="#383838" stroke-opacity="0.75" stroke-width="0.9"/>
<path d="M212.5 102.5L215.7 105.7L212.5 108.9L209.3 105.7Z" fill="#c4c4c4" fill-opacity="0.6" stroke="#383838" stroke-opacity="0.75" stroke-width="0.9"/>
<path d="M272.3 103.8L275.5 107L272.3 110.2L269.1 107Z" fill="#c4c4c4" fill-opacity="0.6" stroke="#383838" stroke-opacity="0.75" stroke-width="0.9"/>
<path d="M332.1 112.1L335.3 115.3L332.1 118.5L328.9 115.3Z" fill="#c4c4c4" fill-opacity="0.6" stroke="#383838" stroke-opacity="0.75" stroke-width="0.9"/>
<path d="M212.5 106.3L215.7 109.5L212.5 112.7L209.3 109.5Z" fill="#c4c4c4" fill-opacity="0.6" stroke="#383838" stroke-opacity="0.75" stroke-width="0.9"/>
<path d="M272.3 115.9L275.5 119.1L272.3 122.3L269.1 119.1Z" fill="#c4c4c4" fill-opacity="0.6" stroke="#383838" stroke-opacity="0.75" stroke-width="0.9"/>
<path d="M332.1 112.1L335.3 115.3L332.1 118.5L328.9 115.3Z" fill="#c4c4c4" fill-opacity="0.6" stroke="#383838" stroke-opacity="0.75" stroke-width="0.9"/>
<path d="M212.5 105.9L215.7 109.1L212.5 112.3L209.3 109.1Z" fill="#c4c4c4" fill-opacity="0.6" stroke="#383838" stroke-opacity="0.75" stroke-width="0.9"/>
<path d="M272.3 109.1L275.5 112.3L272.3 115.5L269.1 112.3Z" fill="#c4c4c4" fill-opacity="0.6" stroke="#383838" stroke-opacity="0.75" stroke-width="0.9"/>
<path d="M332.1 113.5L335.3 116.7L332.1 119.9L328.9 116.7Z" fill="#c4c4c4" fill-opacity="0.6" stroke="#383838" stroke-opacity="0.75" stroke-width="0.9"/>
<path d="M212.5 97.6L215.7 100.8L212.5 104L209.3 100.8Z" fill="#c4c4c4" fill-opacity="0.6" stroke="#383838" stroke-opacity="0.75" stroke-width="0.9"/>
<path d="M272.3 115.4L275.5 118.6L272.3 121.8L269.1 118.6Z" fill="#c4c4c4" fill-opacity="0.6" stroke="#383838" stroke-opacity="0.75" stroke-width="0.9"/>
<path d="M332.1 98.2L335.3 101.4L332.1 104.6L328.9 101.4Z" fill="#c4c4c4" fill-opacity="0.6" stroke="#383838" stroke-opacity="0.75" stroke-width="0.9"/>
</g>
<g>
<polyline points="389.4,55 449.2,60 509,66" stroke="#555" stroke-opacity="0.5" stroke-width="1.15" fill="none" stroke-dasharray="6.5 3.3"/>
<polyline points="389.4,60 449.2,65 509,62" stroke="#555" stroke-opacity="0.5" stroke-width="1.15" fill="none" stroke-dasharray="6.5 3.3"/>
<polyline points="389.4,66.5 449.2,70 509,74" stroke="#555" stroke-opacity="0.5" stroke-width="1.15" fill="none" stroke-dasharray="6.5 3.3"/>
<polyline points="389.4,71 449.2,74 509,69" stroke="#555" stroke-opacity="0.5" stroke-width="1.15" fill="none" stroke-dasharray="6.5 3.3"/>
<polyline points="389.4,80 449.2,80 509,73" stroke="#555" stroke-opacity="0.5" stroke-width="1.15" fill="none" stroke-dasharray="6.5 3.3"/>
<polyline points="389.4,18.2 449.2,39 509,64.1" stroke="#555" stroke-opacity="0.5" stroke-width="1.15" fill="none" stroke-dasharray="6.5 3.3"/>
<polyline points="389.4,18.5 449.2,39.7 509,67.3" stroke="#555" stroke-opacity="0.5" stroke-width="1.15" fill="none" stroke-dasharray="6.5 3.3"/>
<polyline points="389.4,46.9 449.2,57 509,71.7" stroke="#555" stroke-opacity="0.5" stroke-width="1.15" fill="none" stroke-dasharray="6.5 3.3"/>
<polyline points="389.4,63 449.2,63.4 509,58.4" stroke="#555" stroke-opacity="0.5" stroke-width="1.15" fill="none" stroke-dasharray="6.5 3.3"/>
<polyline points="389.4,69 449.2,68.5 509,71.7" stroke="#555" stroke-opacity="0.5" stroke-width="1.15" fill="none" stroke-dasharray="6.5 3.3"/>
<polyline points="389.4,74.1 449.2,72.4 509,64.1" stroke="#555" stroke-opacity="0.5" stroke-width="1.15" fill="none" stroke-dasharray="6.5 3.3"/>
<polyline points="389.4,86.8 449.2,83.3 509,77.5" stroke="#555" stroke-opacity="0.5" stroke-width="1.15" fill="none" stroke-dasharray="6.5 3.3"/>
<polyline points="389.4,88.7 449.2,84.3 509,92.8" stroke="#555" stroke-opacity="0.5" stroke-width="1.15" fill="none" stroke-dasharray="6.5 3.3"/>
<polyline points="389.4,104 449.2,92.2 509,67.3" stroke="#555" stroke-opacity="0.5" stroke-width="1.15" fill="none" stroke-dasharray="6.5 3.3"/>
<polyline points="389.4,77.9 449.2,77.9 509,82.6" stroke="#555" stroke-opacity="0.5" stroke-width="1.15" fill="none" stroke-dasharray="6.5 3.3"/>
<polyline points="389.4,62 449.2,64 509,70" stroke="#4a4a4a" stroke-opacity="0.5" stroke-width="1.05" fill="none"/>
<polyline points="389.4,68 449.2,71 509,61" stroke="#4a4a4a" stroke-opacity="0.5" stroke-width="1.05" fill="none"/>
<polyline points="389.4,58 449.2,73 509,79" stroke="#4a4a4a" stroke-opacity="0.5" stroke-width="1.05" fill="none"/>
<polyline points="389.4,26.4 449.2,41.3 509,58.4" stroke="#4a4a4a" stroke-opacity="0.5" stroke-width="1.05" fill="none"/>
<polyline points="389.4,41.3 449.2,51.4 509,51.4" stroke="#4a4a4a" stroke-opacity="0.5" stroke-width="1.05" fill="none"/>
<polyline points="389.4,41.8 449.2,51.4 509,64.1" stroke="#4a4a4a" stroke-opacity="0.5" stroke-width="1.05" fill="none"/>
<polyline points="389.4,53.7 449.2,57.1 509,67.3" stroke="#4a4a4a" stroke-opacity="0.5" stroke-width="1.05" fill="none"/>
<polyline points="389.4,60.7 449.2,60.7 509,58.4" stroke="#4a4a4a" stroke-opacity="0.5" stroke-width="1.05" fill="none"/>
<polyline points="389.4,65.2 449.2,68.5 509,76.8" stroke="#4a4a4a" stroke-opacity="0.5" stroke-width="1.05" fill="none"/>
<polyline points="389.4,77 449.2,77.4 509,67.3" stroke="#4a4a4a" stroke-opacity="0.5" stroke-width="1.05" fill="none"/>
<polyline points="389.4,95.1 449.2,84.3 509,81.9" stroke="#4a4a4a" stroke-opacity="0.5" stroke-width="1.05" fill="none"/>
<polyline points="389.4,105.3 449.2,88.1 509,76.8" stroke="#4a4a4a" stroke-opacity="0.5" stroke-width="1.05" fill="none"/>
<polyline points="389.4,133.3 449.2,101.7 509,87.1" stroke="#4a4a4a" stroke-opacity="0.5" stroke-width="1.05" fill="none"/>
<polyline points="389.4,48 449.2,63 509,71.7" stroke="#4a4a4a" stroke-opacity="0.5" stroke-width="1.05" fill="none"/>
<polyline points="389.4,70 449.2,83.3 509,58.4" stroke="#4a4a4a" stroke-opacity="0.5" stroke-width="1.05" fill="none"/>
<polyline points="389.4,91.3 449.2,76.3 509,82.6" stroke="#4a4a4a" stroke-opacity="0.5" stroke-width="1.05" fill="none"/>
<polyline points="389.4,56 449.2,68.5 509,64.1" stroke="#4a4a4a" stroke-opacity="0.5" stroke-width="1.05" fill="none"/>
<circle cx="389.4" cy="62" r="2.65" fill="#7a7a7a" fill-opacity="0.55" stroke="#2a2a2a" stroke-opacity="0.85" stroke-width="1"/>
<circle cx="449.2" cy="64" r="2.65" fill="#7a7a7a" fill-opacity="0.55" stroke="#2a2a2a" stroke-opacity="0.85" stroke-width="1"/>
<circle cx="509" cy="70" r="2.65" fill="#7a7a7a" fill-opacity="0.55" stroke="#2a2a2a" stroke-opacity="0.85" stroke-width="1"/>
<circle cx="389.4" cy="68" r="2.65" fill="#7a7a7a" fill-opacity="0.55" stroke="#2a2a2a" stroke-opacity="0.85" stroke-width="1"/>
<circle cx="449.2" cy="71" r="2.65" fill="#7a7a7a" fill-opacity="0.55" stroke="#2a2a2a" stroke-opacity="0.85" stroke-width="1"/>
<circle cx="509" cy="61" r="2.65" fill="#7a7a7a" fill-opacity="0.55" stroke="#2a2a2a" stroke-opacity="0.85" stroke-width="1"/>
<circle cx="389.4" cy="58" r="2.65" fill="#7a7a7a" fill-opacity="0.55" stroke="#2a2a2a" stroke-opacity="0.85" stroke-width="1"/>
<circle cx="449.2" cy="73" r="2.65" fill="#7a7a7a" fill-opacity="0.55" stroke="#2a2a2a" stroke-opacity="0.85" stroke-width="1"/>
<circle cx="509" cy="79" r="2.65" fill="#7a7a7a" fill-opacity="0.55" stroke="#2a2a2a" stroke-opacity="0.85" stroke-width="1"/>
<circle cx="389.4" cy="26.4" r="2.65" fill="#7a7a7a" fill-opacity="0.55" stroke="#2a2a2a" stroke-opacity="0.85" stroke-width="1"/>
<circle cx="449.2" cy="41.3" r="2.65" fill="#7a7a7a" fill-opacity="0.55" stroke="#2a2a2a" stroke-opacity="0.85" stroke-width="1"/>
<circle cx="509" cy="58.4" r="2.65" fill="#7a7a7a" fill-opacity="0.55" stroke="#2a2a2a" stroke-opacity="0.85" stroke-width="1"/>
<circle cx="389.4" cy="41.3" r="2.65" fill="#7a7a7a" fill-opacity="0.55" stroke="#2a2a2a" stroke-opacity="0.85" stroke-width="1"/>
<circle cx="449.2" cy="51.4" r="2.65" fill="#7a7a7a" fill-opacity="0.55" stroke="#2a2a2a" stroke-opacity="0.85" stroke-width="1"/>
<circle cx="509" cy="51.4" r="2.65" fill="#7a7a7a" fill-opacity="0.55" stroke="#2a2a2a" stroke-opacity="0.85" stroke-width="1"/>
<circle cx="389.4" cy="41.8" r="2.65" fill="#7a7a7a" fill-opacity="0.55" stroke="#2a2a2a" stroke-opacity="0.85" stroke-width="1"/>
<circle cx="449.2" cy="51.4" r="2.65" fill="#7a7a7a" fill-opacity="0.55" stroke="#2a2a2a" stroke-opacity="0.85" stroke-width="1"/>
<circle cx="509" cy="64.1" r="2.65" fill="#7a7a7a" fill-opacity="0.55" stroke="#2a2a2a" stroke-opacity="0.85" stroke-width="1"/>
<circle cx="389.4" cy="53.7" r="2.65" fill="#7a7a7a" fill-opacity="0.55" stroke="#2a2a2a" stroke-opacity="0.85" stroke-width="1"/>
<circle cx="449.2" cy="57.1" r="2.65" fill="#7a7a7a" fill-opacity="0.55" stroke="#2a2a2a" stroke-opacity="0.85" stroke-width="1"/>
<circle cx="509" cy="67.3" r="2.65" fill="#7a7a7a" fill-opacity="0.55" stroke="#2a2a2a" stroke-opacity="0.85" stroke-width="1"/>
<circle cx="389.4" cy="60.7" r="2.65" fill="#7a7a7a" fill-opacity="0.55" stroke="#2a2a2a" stroke-opacity="0.85" stroke-width="1"/>
<circle cx="449.2" cy="60.7" r="2.65" fill="#7a7a7a" fill-opacity="0.55" stroke="#2a2a2a" stroke-opacity="0.85" stroke-width="1"/>
<circle cx="509" cy="58.4" r="2.65" fill="#7a7a7a" fill-opacity="0.55" stroke="#2a2a2a" stroke-opacity="0.85" stroke-width="1"/>
<circle cx="389.4" cy="65.2" r="2.65" fill="#7a7a7a" fill-opacity="0.55" stroke="#2a2a2a" stroke-opacity="0.85" stroke-width="1"/>
<circle cx="449.2" cy="68.5" r="2.65" fill="#7a7a7a" fill-opacity="0.55" stroke="#2a2a2a" stroke-opacity="0.85" stroke-width="1"/>
<circle cx="509" cy="76.8" r="2.65" fill="#7a7a7a" fill-opacity="0.55" stroke="#2a2a2a" stroke-opacity="0.85" stroke-width="1"/>
<circle cx="389.4" cy="77" r="2.65" fill="#7a7a7a" fill-opacity="0.55" stroke="#2a2a2a" stroke-opacity="0.85" stroke-width="1"/>
<circle cx="449.2" cy="77.4" r="2.65" fill="#7a7a7a" fill-opacity="0.55" stroke="#2a2a2a" stroke-opacity="0.85" stroke-width="1"/>
<circle cx="509" cy="67.3" r="2.65" fill="#7a7a7a" fill-opacity="0.55" stroke="#2a2a2a" stroke-opacity="0.85" stroke-width="1"/>
<circle cx="389.4" cy="95.1" r="2.65" fill="#7a7a7a" fill-opacity="0.55" stroke="#2a2a2a" stroke-opacity="0.85" stroke-width="1"/>
<circle cx="449.2" cy="84.3" r="2.65" fill="#7a7a7a" fill-opacity="0.55" stroke="#2a2a2a" stroke-opacity="0.85" stroke-width="1"/>
<circle cx="509" cy="81.9" r="2.65" fill="#7a7a7a" fill-opacity="0.55" stroke="#2a2a2a" stroke-opacity="0.85" stroke-width="1"/>
<circle cx="389.4" cy="105.3" r="2.65" fill="#7a7a7a" fill-opacity="0.55" stroke="#2a2a2a" stroke-opacity="0.85" stroke-width="1"/>
<circle cx="449.2" cy="88.1" r="2.65" fill="#7a7a7a" fill-opacity="0.55" stroke="#2a2a2a" stroke-opacity="0.85" stroke-width="1"/>
<circle cx="509" cy="76.8" r="2.65" fill="#7a7a7a" fill-opacity="0.55" stroke="#2a2a2a" stroke-opacity="0.85" stroke-width="1"/>
<circle cx="389.4" cy="133.3" r="2.65" fill="#7a7a7a" fill-opacity="0.55" stroke="#2a2a2a" stroke-opacity="0.85" stroke-width="1"/>
<circle cx="449.2" cy="101.7" r="2.65" fill="#7a7a7a" fill-opacity="0.55" stroke="#2a2a2a" stroke-opacity="0.85" stroke-width="1"/>
<circle cx="509" cy="87.1" r="2.65" fill="#7a7a7a" fill-opacity="0.55" stroke="#2a2a2a" stroke-opacity="0.85" stroke-width="1"/>
<circle cx="389.4" cy="48" r="2.65" fill="#7a7a7a" fill-opacity="0.55" stroke="#2a2a2a" stroke-opacity="0.85" stroke-width="1"/>
<circle cx="449.2" cy="63" r="2.65" fill="#7a7a7a" fill-opacity="0.55" stroke="#2a2a2a" stroke-opacity="0.85" stroke-width="1"/>
<circle cx="509" cy="71.7" r="2.65" fill="#7a7a7a" fill-opacity="0.55" stroke="#2a2a2a" stroke-opacity="0.85" stroke-width="1"/>
<circle cx="389.4" cy="70" r="2.65" fill="#7a7a7a" fill-opacity="0.55" stroke="#2a2a2a" stroke-opacity="0.85" stroke-width="1"/>
<circle cx="449.2" cy="83.3" r="2.65" fill="#7a7a7a" fill-opacity="0.55" stroke="#2a2a2a" stroke-opacity="0.85" stroke-width="1"/>
<circle cx="509" cy="58.4" r="2.65" fill="#7a7a7a" fill-opacity="0.55" stroke="#2a2a2a" stroke-opacity="0.85" stroke-width="1"/>
<circle cx="389.4" cy="91.3" r="2.65" fill="#7a7a7a" fill-opacity="0.55" stroke="#2a2a2a" stroke-opacity="0.85" stroke-width="1"/>
<circle cx="449.2" cy="76.3" r="2.65" fill="#7a7a7a" fill-opacity="0.55" stroke="#2a2a2a" stroke-opacity="0.85" stroke-width="1"/>
<circle cx="509" cy="82.6" r="2.65" fill="#7a7a7a" fill-opacity="0.55" stroke="#2a2a2a" stroke-opacity="0.85" stroke-width="1"/>
<circle cx="389.4" cy="56" r="2.65" fill="#7a7a7a" fill-opacity="0.55" stroke="#2a2a2a" stroke-opacity="0.85" stroke-width="1"/>
<circle cx="449.2" cy="68.5" r="2.65" fill="#7a7a7a" fill-opacity="0.55" stroke="#2a2a2a" stroke-opacity="0.85" stroke-width="1"/>
<circle cx="509" cy="64.1" r="2.65" fill="#7a7a7a" fill-opacity="0.55" stroke="#2a2a2a" stroke-opacity="0.85" stroke-width="1"/>
<path d="M389.4 51.8L392.6 55L389.4 58.2L386.2 55Z" fill="#c4c4c4" fill-opacity="0.6" stroke="#383838" stroke-opacity="0.75" stroke-width="0.9"/>
<path d="M449.2 56.8L452.4 60L449.2 63.2L446 60Z" fill="#c4c4c4" fill-opacity="0.6" stroke="#383838" stroke-opacity="0.75" stroke-width="0.9"/>
<path d="M509 62.8L512.2 66L509 69.2L505.8 66Z" fill="#c4c4c4" fill-opacity="0.6" stroke="#383838" stroke-opacity="0.75" stroke-width="0.9"/>
<path d="M389.4 56.8L392.6 60L389.4 63.2L386.2 60Z" fill="#c4c4c4" fill-opacity="0.6" stroke="#383838" stroke-opacity="0.75" stroke-width="0.9"/>
<path d="M449.2 61.8L452.4 65L449.2 68.2L446 65Z" fill="#c4c4c4" fill-opacity="0.6" stroke="#383838" stroke-opacity="0.75" stroke-width="0.9"/>
<path d="M509 58.8L512.2 62L509 65.2L505.8 62Z" fill="#c4c4c4" fill-opacity="0.6" stroke="#383838" stroke-opacity="0.75" stroke-width="0.9"/>
<path d="M389.4 63.3L392.6 66.5L389.4 69.7L386.2 66.5Z" fill="#c4c4c4" fill-opacity="0.6" stroke="#383838" stroke-opacity="0.75" stroke-width="0.9"/>
<path d="M449.2 66.8L452.4 70L449.2 73.2L446 70Z" fill="#c4c4c4" fill-opacity="0.6" stroke="#383838" stroke-opacity="0.75" stroke-width="0.9"/>
<path d="M509 70.8L512.2 74L509 77.2L505.8 74Z" fill="#c4c4c4" fill-opacity="0.6" stroke="#383838" stroke-opacity="0.75" stroke-width="0.9"/>
<path d="M389.4 67.8L392.6 71L389.4 74.2L386.2 71Z" fill="#c4c4c4" fill-opacity="0.6" stroke="#383838" stroke-opacity="0.75" stroke-width="0.9"/>
<path d="M449.2 70.8L452.4 74L449.2 77.2L446 74Z" fill="#c4c4c4" fill-opacity="0.6" stroke="#383838" stroke-opacity="0.75" stroke-width="0.9"/>
<path d="M509 65.8L512.2 69L509 72.2L505.8 69Z" fill="#c4c4c4" fill-opacity="0.6" stroke="#383838" stroke-opacity="0.75" stroke-width="0.9"/>
<path d="M389.4 76.8L392.6 80L389.4 83.2L386.2 80Z" fill="#c4c4c4" fill-opacity="0.6" stroke="#383838" stroke-opacity="0.75" stroke-width="0.9"/>
<path d="M449.2 76.8L452.4 80L449.2 83.2L446 80Z" fill="#c4c4c4" fill-opacity="0.6" stroke="#383838" stroke-opacity="0.75" stroke-width="0.9"/>
<path d="M509 69.8L512.2 73L509 76.2L505.8 73Z" fill="#c4c4c4" fill-opacity="0.6" stroke="#383838" stroke-opacity="0.75" stroke-width="0.9"/>
<path d="M389.4 15L392.6 18.2L389.4 21.4L386.2 18.2Z" fill="#c4c4c4" fill-opacity="0.6" stroke="#383838" stroke-opacity="0.75" stroke-width="0.9"/>
<path d="M449.2 35.8L452.4 39L449.2 42.2L446 39Z" fill="#c4c4c4" fill-opacity="0.6" stroke="#383838" stroke-opacity="0.75" stroke-width="0.9"/>
<path d="M509 60.9L512.2 64.1L509 67.3L505.8 64.1Z" fill="#c4c4c4" fill-opacity="0.6" stroke="#383838" stroke-opacity="0.75" stroke-width="0.9"/>
<path d="M389.4 15.3L392.6 18.5L389.4 21.7L386.2 18.5Z" fill="#c4c4c4" fill-opacity="0.6" stroke="#383838" stroke-opacity="0.75" stroke-width="0.9"/>
<path d="M449.2 36.5L452.4 39.7L449.2 42.9L446 39.7Z" fill="#c4c4c4" fill-opacity="0.6" stroke="#383838" stroke-opacity="0.75" stroke-width="0.9"/>
<path d="M509 64.1L512.2 67.3L509 70.5L505.8 67.3Z" fill="#c4c4c4" fill-opacity="0.6" stroke="#383838" stroke-opacity="0.75" stroke-width="0.9"/>
<path d="M389.4 43.7L392.6 46.9L389.4 50.1L386.2 46.9Z" fill="#c4c4c4" fill-opacity="0.6" stroke="#383838" stroke-opacity="0.75" stroke-width="0.9"/>
<path d="M449.2 53.8L452.4 57L449.2 60.2L446 57Z" fill="#c4c4c4" fill-opacity="0.6" stroke="#383838" stroke-opacity="0.75" stroke-width="0.9"/>
<path d="M509 68.5L512.2 71.7L509 74.9L505.8 71.7Z" fill="#c4c4c4" fill-opacity="0.6" stroke="#383838" stroke-opacity="0.75" stroke-width="0.9"/>
<path d="M389.4 59.8L392.6 63L389.4 66.2L386.2 63Z" fill="#c4c4c4" fill-opacity="0.6" stroke="#383838" stroke-opacity="0.75" stroke-width="0.9"/>
<path d="M449.2 60.2L452.4 63.4L449.2 66.6L446 63.4Z" fill="#c4c4c4" fill-opacity="0.6" stroke="#383838" stroke-opacity="0.75" stroke-width="0.9"/>
<path d="M509 55.2L512.2 58.4L509 61.6L505.8 58.4Z" fill="#c4c4c4" fill-opacity="0.6" stroke="#383838" stroke-opacity="0.75" stroke-width="0.9"/>
<path d="M389.4 65.8L392.6 69L389.4 72.2L386.2 69Z" fill="#c4c4c4" fill-opacity="0.6" stroke="#383838" stroke-opacity="0.75" stroke-width="0.9"/>
<path d="M449.2 65.3L452.4 68.5L449.2 71.7L446 68.5Z" fill="#c4c4c4" fill-opacity="0.6" stroke="#383838" stroke-opacity="0.75" stroke-width="0.9"/>
<path d="M509 68.5L512.2 71.7L509 74.9L505.8 71.7Z" fill="#c4c4c4" fill-opacity="0.6" stroke="#383838" stroke-opacity="0.75" stroke-width="0.9"/>
<path d="M389.4 70.9L392.6 74.1L389.4 77.3L386.2 74.1Z" fill="#c4c4c4" fill-opacity="0.6" stroke="#383838" stroke-opacity="0.75" stroke-width="0.9"/>
<path d="M449.2 69.2L452.4 72.4L449.2 75.6L446 72.4Z" fill="#c4c4c4" fill-opacity="0.6" stroke="#383838" stroke-opacity="0.75" stroke-width="0.9"/>
<path d="M509 60.9L512.2 64.1L509 67.3L505.8 64.1Z" fill="#c4c4c4" fill-opacity="0.6" stroke="#383838" stroke-opacity="0.75" stroke-width="0.9"/>
<path d="M389.4 83.6L392.6 86.8L389.4 90L386.2 86.8Z" fill="#c4c4c4" fill-opacity="0.6" stroke="#383838" stroke-opacity="0.75" stroke-width="0.9"/>
<path d="M449.2 80.1L452.4 83.3L449.2 86.5L446 83.3Z" fill="#c4c4c4" fill-opacity="0.6" stroke="#383838" stroke-opacity="0.75" stroke-width="0.9"/>
<path d="M509 74.3L512.2 77.5L509 80.7L505.8 77.5Z" fill="#c4c4c4" fill-opacity="0.6" stroke="#383838" stroke-opacity="0.75" stroke-width="0.9"/>
<path d="M389.4 85.5L392.6 88.7L389.4 91.9L386.2 88.7Z" fill="#c4c4c4" fill-opacity="0.6" stroke="#383838" stroke-opacity="0.75" stroke-width="0.9"/>
<path d="M449.2 81.1L452.4 84.3L449.2 87.5L446 84.3Z" fill="#c4c4c4" fill-opacity="0.6" stroke="#383838" stroke-opacity="0.75" stroke-width="0.9"/>
<path d="M509 89.6L512.2 92.8L509 96L505.8 92.8Z" fill="#c4c4c4" fill-opacity="0.6" stroke="#383838" stroke-opacity="0.75" stroke-width="0.9"/>
<path d="M389.4 100.8L392.6 104L389.4 107.2L386.2 104Z" fill="#c4c4c4" fill-opacity="0.6" stroke="#383838" stroke-opacity="0.75" stroke-width="0.9"/>
<path d="M449.2 89L452.4 92.2L449.2 95.4L446 92.2Z" fill="#c4c4c4" fill-opacity="0.6" stroke="#383838" stroke-opacity="0.75" stroke-width="0.9"/>
<path d="M509 64.1L512.2 67.3L509 70.5L505.8 67.3Z" fill="#c4c4c4" fill-opacity="0.6" stroke="#383838" stroke-opacity="0.75" stroke-width="0.9"/>
<path d="M389.4 74.7L392.6 77.9L389.4 81.1L386.2 77.9Z" fill="#c4c4c4" fill-opacity="0.6" stroke="#383838" stroke-opacity="0.75" stroke-width="0.9"/>
<path d="M449.2 74.7L452.4 77.9L449.2 81.1L446 77.9Z" fill="#c4c4c4" fill-opacity="0.6" stroke="#383838" stroke-opacity="0.75" stroke-width="0.9"/>
<path d="M509 79.4L512.2 82.6L509 85.8L505.8 82.6Z" fill="#c4c4c4" fill-opacity="0.6" stroke="#383838" stroke-opacity="0.75" stroke-width="0.9"/>
</g>
<g>
<polyline points="560.5,53.4 620.3,50.2 680.1,46.3" stroke="#555" stroke-opacity="0.5" stroke-width="1.15" fill="none" stroke-dasharray="6.5 3.3"/>
<polyline points="560.5,59.7 620.3,59.1 680.1,55.2" stroke="#555" stroke-opacity="0.5" stroke-width="1.15" fill="none" stroke-dasharray="6.5 3.3"/>
<polyline points="560.5,64.8 620.3,65.4 680.1,64.1" stroke="#555" stroke-opacity="0.5" stroke-width="1.15" fill="none" stroke-dasharray="6.5 3.3"/>
<polyline points="560.5,80.1 620.3,80.7 680.1,79.4" stroke="#555" stroke-opacity="0.5" stroke-width="1.15" fill="none" stroke-dasharray="6.5 3.3"/>
<polyline points="560.5,85.2 620.3,85.8 680.1,88.9" stroke="#555" stroke-opacity="0.5" stroke-width="1.15" fill="none" stroke-dasharray="6.5 3.3"/>
<polyline points="560.5,89 620.3,91.5 680.1,94.6" stroke="#555" stroke-opacity="0.5" stroke-width="1.15" fill="none" stroke-dasharray="6.5 3.3"/>
<polyline points="560.5,105.5 620.3,103.8 680.1,103.2" stroke="#555" stroke-opacity="0.5" stroke-width="1.15" fill="none" stroke-dasharray="6.5 3.3"/>
<polyline points="560.5,113.2 620.3,112.7 680.1,111.8" stroke="#555" stroke-opacity="0.5" stroke-width="1.15" fill="none" stroke-dasharray="6.5 3.3"/>
<polyline points="560.5,117.8 620.3,122.9 680.1,122.9" stroke="#555" stroke-opacity="0.5" stroke-width="1.15" fill="none" stroke-dasharray="6.5 3.3"/>
<polyline points="560.5,105.1 620.3,104.2 680.1,106.1" stroke="#555" stroke-opacity="0.5" stroke-width="1.15" fill="none" stroke-dasharray="6.5 3.3"/>
<polyline points="560.5,21.3 620.3,19 680.1,18.3" stroke="#4a4a4a" stroke-opacity="0.5" stroke-width="1.05" fill="none"/>
<polyline points="560.5,37.8 620.3,44.2 680.1,46.3" stroke="#4a4a4a" stroke-opacity="0.5" stroke-width="1.05" fill="none"/>
<polyline points="560.5,53.4 620.3,54 680.1,55.2" stroke="#4a4a4a" stroke-opacity="0.5" stroke-width="1.05" fill="none"/>
<polyline points="560.5,68.6 620.3,65.4 680.1,67.3" stroke="#4a4a4a" stroke-opacity="0.5" stroke-width="1.05" fill="none"/>
<polyline points="560.5,73.7 620.3,73.7 680.1,72.4" stroke="#4a4a4a" stroke-opacity="0.5" stroke-width="1.05" fill="none"/>
<polyline points="560.5,75.6 620.3,76.3 680.1,82.5" stroke="#4a4a4a" stroke-opacity="0.5" stroke-width="1.05" fill="none"/>
<polyline points="560.5,94.1 620.3,97.9 680.1,101" stroke="#4a4a4a" stroke-opacity="0.5" stroke-width="1.05" fill="none"/>
<polyline points="560.5,99.8 620.3,99.1 680.1,94.6" stroke="#4a4a4a" stroke-opacity="0.5" stroke-width="1.05" fill="none"/>
<polyline points="560.5,122.3 620.3,119 680.1,117.5" stroke="#4a4a4a" stroke-opacity="0.5" stroke-width="1.05" fill="none"/>
<polyline points="560.5,123.5 620.3,122.9 680.1,126.7" stroke="#4a4a4a" stroke-opacity="0.5" stroke-width="1.05" fill="none"/>
<polyline points="560.5,132.8 620.3,127.4 680.1,129.9" stroke="#4a4a4a" stroke-opacity="0.5" stroke-width="1.05" fill="none"/>
<polyline points="560.5,85.2 620.3,76.3 680.1,83.2" stroke="#4a4a4a" stroke-opacity="0.5" stroke-width="1.05" fill="none"/>
<polyline points="560.5,100.6 620.3,99.1 680.1,106.1" stroke="#4a4a4a" stroke-opacity="0.5" stroke-width="1.05" fill="none"/>
<polyline points="560.5,78.8 620.3,85.7 680.1,83.2" stroke="#4a4a4a" stroke-opacity="0.5" stroke-width="1.05" fill="none"/>
<circle cx="560.5" cy="21.3" r="2.65" fill="#7a7a7a" fill-opacity="0.55" stroke="#2a2a2a" stroke-opacity="0.85" stroke-width="1"/>
<circle cx="620.3" cy="19" r="2.65" fill="#7a7a7a" fill-opacity="0.55" stroke="#2a2a2a" stroke-opacity="0.85" stroke-width="1"/>
<circle cx="680.1" cy="18.3" r="2.65" fill="#7a7a7a" fill-opacity="0.55" stroke="#2a2a2a" stroke-opacity="0.85" stroke-width="1"/>
<circle cx="560.5" cy="37.8" r="2.65" fill="#7a7a7a" fill-opacity="0.55" stroke="#2a2a2a" stroke-opacity="0.85" stroke-width="1"/>
<circle cx="620.3" cy="44.2" r="2.65" fill="#7a7a7a" fill-opacity="0.55" stroke="#2a2a2a" stroke-opacity="0.85" stroke-width="1"/>
<circle cx="680.1" cy="46.3" r="2.65" fill="#7a7a7a" fill-opacity="0.55" stroke="#2a2a2a" stroke-opacity="0.85" stroke-width="1"/>
<circle cx="560.5" cy="53.4" r="2.65" fill="#7a7a7a" fill-opacity="0.55" stroke="#2a2a2a" stroke-opacity="0.85" stroke-width="1"/>
<circle cx="620.3" cy="54" r="2.65" fill="#7a7a7a" fill-opacity="0.55" stroke="#2a2a2a" stroke-opacity="0.85" stroke-width="1"/>
<circle cx="680.1" cy="55.2" r="2.65" fill="#7a7a7a" fill-opacity="0.55" stroke="#2a2a2a" stroke-opacity="0.85" stroke-width="1"/>
<circle cx="560.5" cy="68.6" r="2.65" fill="#7a7a7a" fill-opacity="0.55" stroke="#2a2a2a" stroke-opacity="0.85" stroke-width="1"/>
<circle cx="620.3" cy="65.4" r="2.65" fill="#7a7a7a" fill-opacity="0.55" stroke="#2a2a2a" stroke-opacity="0.85" stroke-width="1"/>
<circle cx="680.1" cy="67.3" r="2.65" fill="#7a7a7a" fill-opacity="0.55" stroke="#2a2a2a" stroke-opacity="0.85" stroke-width="1"/>
<circle cx="560.5" cy="73.7" r="2.65" fill="#7a7a7a" fill-opacity="0.55" stroke="#2a2a2a" stroke-opacity="0.85" stroke-width="1"/>
<circle cx="620.3" cy="73.7" r="2.65" fill="#7a7a7a" fill-opacity="0.55" stroke="#2a2a2a" stroke-opacity="0.85" stroke-width="1"/>
<circle cx="680.1" cy="72.4" r="2.65" fill="#7a7a7a" fill-opacity="0.55" stroke="#2a2a2a" stroke-opacity="0.85" stroke-width="1"/>
<circle cx="560.5" cy="75.6" r="2.65" fill="#7a7a7a" fill-opacity="0.55" stroke="#2a2a2a" stroke-opacity="0.85" stroke-width="1"/>
<circle cx="620.3" cy="76.3" r="2.65" fill="#7a7a7a" fill-opacity="0.55" stroke="#2a2a2a" stroke-opacity="0.85" stroke-width="1"/>
<circle cx="680.1" cy="82.5" r="2.65" fill="#7a7a7a" fill-opacity="0.55" stroke="#2a2a2a" stroke-opacity="0.85" stroke-width="1"/>
<circle cx="560.5" cy="94.1" r="2.65" fill="#7a7a7a" fill-opacity="0.55" stroke="#2a2a2a" stroke-opacity="0.85" stroke-width="1"/>
<circle cx="620.3" cy="97.9" r="2.65" fill="#7a7a7a" fill-opacity="0.55" stroke="#2a2a2a" stroke-opacity="0.85" stroke-width="1"/>
<circle cx="680.1" cy="101" r="2.65" fill="#7a7a7a" fill-opacity="0.55" stroke="#2a2a2a" stroke-opacity="0.85" stroke-width="1"/>
<circle cx="560.5" cy="99.8" r="2.65" fill="#7a7a7a" fill-opacity="0.55" stroke="#2a2a2a" stroke-opacity="0.85" stroke-width="1"/>
<circle cx="620.3" cy="99.1" r="2.65" fill="#7a7a7a" fill-opacity="0.55" stroke="#2a2a2a" stroke-opacity="0.85" stroke-width="1"/>
<circle cx="680.1" cy="94.6" r="2.65" fill="#7a7a7a" fill-opacity="0.55" stroke="#2a2a2a" stroke-opacity="0.85" stroke-width="1"/>
<circle cx="560.5" cy="122.3" r="2.65" fill="#7a7a7a" fill-opacity="0.55" stroke="#2a2a2a" stroke-opacity="0.85" stroke-width="1"/>
<circle cx="620.3" cy="119" r="2.65" fill="#7a7a7a" fill-opacity="0.55" stroke="#2a2a2a" stroke-opacity="0.85" stroke-width="1"/>
<circle cx="680.1" cy="117.5" r="2.65" fill="#7a7a7a" fill-opacity="0.55" stroke="#2a2a2a" stroke-opacity="0.85" stroke-width="1"/>
<circle cx="560.5" cy="123.5" r="2.65" fill="#7a7a7a" fill-opacity="0.55" stroke="#2a2a2a" stroke-opacity="0.85" stroke-width="1"/>
<circle cx="620.3" cy="122.9" r="2.65" fill="#7a7a7a" fill-opacity="0.55" stroke="#2a2a2a" stroke-opacity="0.85" stroke-width="1"/>
<circle cx="680.1" cy="126.7" r="2.65" fill="#7a7a7a" fill-opacity="0.55" stroke="#2a2a2a" stroke-opacity="0.85" stroke-width="1"/>
<circle cx="560.5" cy="132.8" r="2.65" fill="#7a7a7a" fill-opacity="0.55" stroke="#2a2a2a" stroke-opacity="0.85" stroke-width="1"/>
<circle cx="620.3" cy="127.4" r="2.65" fill="#7a7a7a" fill-opacity="0.55" stroke="#2a2a2a" stroke-opacity="0.85" stroke-width="1"/>
<circle cx="680.1" cy="129.9" r="2.65" fill="#7a7a7a" fill-opacity="0.55" stroke="#2a2a2a" stroke-opacity="0.85" stroke-width="1"/>
<circle cx="560.5" cy="85.2" r="2.65" fill="#7a7a7a" fill-opacity="0.55" stroke="#2a2a2a" stroke-opacity="0.85" stroke-width="1"/>
<circle cx="620.3" cy="76.3" r="2.65" fill="#7a7a7a" fill-opacity="0.55" stroke="#2a2a2a" stroke-opacity="0.85" stroke-width="1"/>
<circle cx="680.1" cy="83.2" r="2.65" fill="#7a7a7a" fill-opacity="0.55" stroke="#2a2a2a" stroke-opacity="0.85" stroke-width="1"/>
<circle cx="560.5" cy="100.6" r="2.65" fill="#7a7a7a" fill-opacity="0.55" stroke="#2a2a2a" stroke-opacity="0.85" stroke-width="1"/>
<circle cx="620.3" cy="99.1" r="2.65" fill="#7a7a7a" fill-opacity="0.55" stroke="#2a2a2a" stroke-opacity="0.85" stroke-width="1"/>
<circle cx="680.1" cy="106.1" r="2.65" fill="#7a7a7a" fill-opacity="0.55" stroke="#2a2a2a" stroke-opacity="0.85" stroke-width="1"/>
<circle cx="560.5" cy="78.8" r="2.65" fill="#7a7a7a" fill-opacity="0.55" stroke="#2a2a2a" stroke-opacity="0.85" stroke-width="1"/>
<circle cx="620.3" cy="85.7" r="2.65" fill="#7a7a7a" fill-opacity="0.55" stroke="#2a2a2a" stroke-opacity="0.85" stroke-width="1"/>
<circle cx="680.1" cy="83.2" r="2.65" fill="#7a7a7a" fill-opacity="0.55" stroke="#2a2a2a" stroke-opacity="0.85" stroke-width="1"/>
<path d="M560.5 50.2L563.7 53.4L560.5 56.6L557.3 53.4Z" fill="#c4c4c4" fill-opacity="0.6" stroke="#383838" stroke-opacity="0.75" stroke-width="0.9"/>
<path d="M620.3 47L623.5 50.2L620.3 53.4L617.1 50.2Z" fill="#c4c4c4" fill-opacity="0.6" stroke="#383838" stroke-opacity="0.75" stroke-width="0.9"/>
<path d="M680.1 43.1L683.3 46.3L680.1 49.5L676.9 46.3Z" fill="#c4c4c4" fill-opacity="0.6" stroke="#383838" stroke-opacity="0.75" stroke-width="0.9"/>
<path d="M560.5 56.5L563.7 59.7L560.5 62.9L557.3 59.7Z" fill="#c4c4c4" fill-opacity="0.6" stroke="#383838" stroke-opacity="0.75" stroke-width="0.9"/>
<path d="M620.3 55.9L623.5 59.1L620.3 62.3L617.1 59.1Z" fill="#c4c4c4" fill-opacity="0.6" stroke="#383838" stroke-opacity="0.75" stroke-width="0.9"/>
<path d="M680.1 52L683.3 55.2L680.1 58.4L676.9 55.2Z" fill="#c4c4c4" fill-opacity="0.6" stroke="#383838" stroke-opacity="0.75" stroke-width="0.9"/>
<path d="M560.5 61.6L563.7 64.8L560.5 68L557.3 64.8Z" fill="#c4c4c4" fill-opacity="0.6" stroke="#383838" stroke-opacity="0.75" stroke-width="0.9"/>
<path d="M620.3 62.2L623.5 65.4L620.3 68.6L617.1 65.4Z" fill="#c4c4c4" fill-opacity="0.6" stroke="#383838" stroke-opacity="0.75" stroke-width="0.9"/>
<path d="M680.1 60.9L683.3 64.1L680.1 67.3L676.9 64.1Z" fill="#c4c4c4" fill-opacity="0.6" stroke="#383838" stroke-opacity="0.75" stroke-width="0.9"/>
<path d="M560.5 76.9L563.7 80.1L560.5 83.3L557.3 80.1Z" fill="#c4c4c4" fill-opacity="0.6" stroke="#383838" stroke-opacity="0.75" stroke-width="0.9"/>
<path d="M620.3 77.5L623.5 80.7L620.3 83.9L617.1 80.7Z" fill="#c4c4c4" fill-opacity="0.6" stroke="#383838" stroke-opacity="0.75" stroke-width="0.9"/>
<path d="M680.1 76.2L683.3 79.4L680.1 82.6L676.9 79.4Z" fill="#c4c4c4" fill-opacity="0.6" stroke="#383838" stroke-opacity="0.75" stroke-width="0.9"/>
<path d="M560.5 82L563.7 85.2L560.5 88.4L557.3 85.2Z" fill="#c4c4c4" fill-opacity="0.6" stroke="#383838" stroke-opacity="0.75" stroke-width="0.9"/>
<path d="M620.3 82.6L623.5 85.8L620.3 89L617.1 85.8Z" fill="#c4c4c4" fill-opacity="0.6" stroke="#383838" stroke-opacity="0.75" stroke-width="0.9"/>
<path d="M680.1 85.7L683.3 88.9L680.1 92.1L676.9 88.9Z" fill="#c4c4c4" fill-opacity="0.6" stroke="#383838" stroke-opacity="0.75" stroke-width="0.9"/>
<path d="M560.5 85.8L563.7 89L560.5 92.2L557.3 89Z" fill="#c4c4c4" fill-opacity="0.6" stroke="#383838" stroke-opacity="0.75" stroke-width="0.9"/>
<path d="M620.3 88.3L623.5 91.5L620.3 94.7L617.1 91.5Z" fill="#c4c4c4" fill-opacity="0.6" stroke="#383838" stroke-opacity="0.75" stroke-width="0.9"/>
<path d="M680.1 91.4L683.3 94.6L680.1 97.8L676.9 94.6Z" fill="#c4c4c4" fill-opacity="0.6" stroke="#383838" stroke-opacity="0.75" stroke-width="0.9"/>
<path d="M560.5 102.3L563.7 105.5L560.5 108.7L557.3 105.5Z" fill="#c4c4c4" fill-opacity="0.6" stroke="#383838" stroke-opacity="0.75" stroke-width="0.9"/>
<path d="M620.3 100.6L623.5 103.8L620.3 107L617.1 103.8Z" fill="#c4c4c4" fill-opacity="0.6" stroke="#383838" stroke-opacity="0.75" stroke-width="0.9"/>
<path d="M680.1 100L683.3 103.2L680.1 106.4L676.9 103.2Z" fill="#c4c4c4" fill-opacity="0.6" stroke="#383838" stroke-opacity="0.75" stroke-width="0.9"/>
<path d="M560.5 110L563.7 113.2L560.5 116.4L557.3 113.2Z" fill="#c4c4c4" fill-opacity="0.6" stroke="#383838" stroke-opacity="0.75" stroke-width="0.9"/>
<path d="M620.3 109.5L623.5 112.7L620.3 115.9L617.1 112.7Z" fill="#c4c4c4" fill-opacity="0.6" stroke="#383838" stroke-opacity="0.75" stroke-width="0.9"/>
<path d="M680.1 108.6L683.3 111.8L680.1 115L676.9 111.8Z" fill="#c4c4c4" fill-opacity="0.6" stroke="#383838" stroke-opacity="0.75" stroke-width="0.9"/>
<path d="M560.5 114.6L563.7 117.8L560.5 121L557.3 117.8Z" fill="#c4c4c4" fill-opacity="0.6" stroke="#383838" stroke-opacity="0.75" stroke-width="0.9"/>
<path d="M620.3 119.7L623.5 122.9L620.3 126.1L617.1 122.9Z" fill="#c4c4c4" fill-opacity="0.6" stroke="#383838" stroke-opacity="0.75" stroke-width="0.9"/>
<path d="M680.1 119.7L683.3 122.9L680.1 126.1L676.9 122.9Z" fill="#c4c4c4" fill-opacity="0.6" stroke="#383838" stroke-opacity="0.75" stroke-width="0.9"/>
<path d="M560.5 101.9L563.7 105.1L560.5 108.3L557.3 105.1Z" fill="#c4c4c4" fill-opacity="0.6" stroke="#383838" stroke-opacity="0.75" stroke-width="0.9"/>
<path d="M620.3 101L623.5 104.2L620.3 107.4L617.1 104.2Z" fill="#c4c4c4" fill-opacity="0.6" stroke="#383838" stroke-opacity="0.75" stroke-width="0.9"/>
<path d="M680.1 102.9L683.3 106.1L680.1 109.3L676.9 106.1Z" fill="#c4c4c4" fill-opacity="0.6" stroke="#383838" stroke-opacity="0.75" stroke-width="0.9"/>
</g>
<line x1="58.9" x2="87.9" y1="112.8" y2="112.8" stroke="#a4a4a4" stroke-width="1.5"/>
<circle cx="73.4" cy="112.8" r="2.9" fill="#8c8c8c" stroke="#505050" stroke-width="0.9"/>
<line x1="58.9" x2="85.7" y1="125.4" y2="125.4" stroke="#a8a8a8" stroke-width="1.4" stroke-dasharray="6.7 13.4"/>
<path d="M73.4 122L76.8 125.4L73.4 128.8L70 125.4Z" fill="#e2e2e2" stroke="#7a7a7a" stroke-width="0.9"/>
<text x="97.5" y="117" font-size="11.5">W</text>
<text x="97.5" y="129.5" font-size="11.5">D</text>
<line x1="36.6" x2="166.2" y1="163.6" y2="163.6" stroke="#ff1a1a" stroke-opacity="0.32" stroke-width="1.8" stroke-dasharray="6.8 3.2"/>
<line x1="36.6" x2="166.2" y1="276.6" y2="276.6" stroke="#ff1a1a" stroke-opacity="0.32" stroke-width="1.8" stroke-dasharray="6.8 3.2"/>
<line x1="71.5" x2="71.5" y1="157.3" y2="215.5" stroke="#7c7c7c" stroke-width="1.15"/>
<rect x="69.1" y="178.5" width="4.8" height="4.8" fill="#fff" stroke="#6c6c6c" stroke-width="1.15"/>
<line x1="131.3" x2="131.3" y1="157.3" y2="197.4" stroke="#7c7c7c" stroke-width="1.15"/>
<rect x="128.9" y="170.79999999999998" width="4.8" height="4.8" fill="#fff" stroke="#6c6c6c" stroke-width="1.15"/>
<line x1="41.6" x2="41.6" y1="219.2" y2="282.2" stroke="#111" stroke-width="1.4"/>
<circle cx="41.6" cy="248.0" r="2.6" fill="#fff" stroke="#111" stroke-width="1.1"/>
<line x1="101.4" x2="101.4" y1="232.0" y2="282.2" stroke="#111" stroke-width="1.4"/>
<circle cx="101.4" cy="260.4" r="2.6" fill="#fff" stroke="#111" stroke-width="1.1"/>
<line x1="161.2" x2="161.2" y1="208.8" y2="274.2" stroke="#111" stroke-width="1.4"/>
<circle cx="161.2" cy="241.3" r="2.6" fill="#fff" stroke="#111" stroke-width="1.1"/>
<line x1="207.5" x2="337.1" y1="163.6" y2="163.6" stroke="#ff1a1a" stroke-opacity="0.32" stroke-width="1.8" stroke-dasharray="6.8 3.2"/>
<line x1="207.5" x2="337.1" y1="276.6" y2="276.6" stroke="#ff1a1a" stroke-opacity="0.32" stroke-width="1.8" stroke-dasharray="6.8 3.2"/>
<line x1="242.4" x2="242.4" y1="163.2" y2="171.4" stroke="#7c7c7c" stroke-width="1.15"/>
<rect x="240.0" y="164.9" width="4.8" height="4.8" fill="#fff" stroke="#6c6c6c" stroke-width="1.15"/>
<line x1="302.2" x2="302.2" y1="163.2" y2="171.4" stroke="#7c7c7c" stroke-width="1.15"/>
<rect x="299.8" y="164.9" width="4.8" height="4.8" fill="#fff" stroke="#6c6c6c" stroke-width="1.15"/>
<line x1="212.5" x2="212.5" y1="181.9" y2="240.7" stroke="#111" stroke-width="1.4"/>
<circle cx="212.5" cy="211.3" r="2.6" fill="#fff" stroke="#111" stroke-width="1.1"/>
<line x1="272.3" x2="272.3" y1="157.3" y2="221.7" stroke="#111" stroke-width="1.4"/>
<circle cx="272.3" cy="189.2" r="2.6" fill="#fff" stroke="#111" stroke-width="1.1"/>
<line x1="332.1" x2="332.1" y1="166.4" y2="230.0" stroke="#111" stroke-width="1.4"/>
<circle cx="332.1" cy="198.1" r="2.6" fill="#fff" stroke="#111" stroke-width="1.1"/>
<line x1="384.4" x2="514.0" y1="163.6" y2="163.6" stroke="#ff1a1a" stroke-opacity="0.32" stroke-width="1.8" stroke-dasharray="6.8 3.2"/>
<line x1="384.4" x2="514.0" y1="276.6" y2="276.6" stroke="#ff1a1a" stroke-opacity="0.32" stroke-width="1.8" stroke-dasharray="6.8 3.2"/>
<line x1="419.29999999999995" x2="419.29999999999995" y1="157.3" y2="198.9" stroke="#7c7c7c" stroke-width="1.15"/>
<rect x="416.9" y="170.2" width="4.8" height="4.8" fill="#fff" stroke="#6c6c6c" stroke-width="1.15"/>
<line x1="479.09999999999997" x2="479.09999999999997" y1="175.1" y2="282.2" stroke="#7c7c7c" stroke-width="1.15"/>
<rect x="476.7" y="236.6" width="4.8" height="4.8" fill="#fff" stroke="#6c6c6c" stroke-width="1.15"/>
<line x1="389.4" x2="389.4" y1="169.5" y2="249.0" stroke="#111" stroke-width="1.4"/>
<circle cx="389.4" cy="209.2" r="2.6" fill="#fff" stroke="#111" stroke-width="1.1"/>
<line x1="449.2" x2="449.2" y1="185.6" y2="260.0" stroke="#111" stroke-width="1.4"/>
<circle cx="449.2" cy="223.1" r="2.6" fill="#fff" stroke="#111" stroke-width="1.1"/>
<line x1="509.0" x2="509.0" y1="201.0" y2="266.6" stroke="#111" stroke-width="1.4"/>
<circle cx="509.0" cy="233.9" r="2.6" fill="#fff" stroke="#111" stroke-width="1.1"/>
<line x1="555.5" x2="685.1" y1="163.6" y2="163.6" stroke="#ff1a1a" stroke-opacity="0.32" stroke-width="1.8" stroke-dasharray="6.8 3.2"/>
<line x1="555.5" x2="685.1" y1="276.6" y2="276.6" stroke="#ff1a1a" stroke-opacity="0.32" stroke-width="1.8" stroke-dasharray="6.8 3.2"/>
<line x1="590.4" x2="590.4" y1="157.3" y2="187.1" stroke="#8c8c8c" stroke-width="2.0"/>
<rect x="588.0" y="167.7" width="4.8" height="4.8" fill="#fff" stroke="#6c6c6c" stroke-width="1.15"/>
<line x1="650.2" x2="650.2" y1="157.3" y2="187.1" stroke="#8c8c8c" stroke-width="2.0"/>
<rect x="647.8000000000001" y="167.7" width="4.8" height="4.8" fill="#fff" stroke="#6c6c6c" stroke-width="1.15"/>
<line x1="560.5" x2="560.5" y1="178.2" y2="244.4" stroke="#111" stroke-width="1.4"/>
<circle cx="560.5" cy="211.3" r="2.6" fill="#fff" stroke="#111" stroke-width="1.1"/>
<line x1="620.3" x2="620.3" y1="186.0" y2="248.0" stroke="#111" stroke-width="1.4"/>
<circle cx="620.3" cy="217.1" r="2.6" fill="#fff" stroke="#111" stroke-width="1.1"/>
<line x1="680.1" x2="680.1" y1="162.2" y2="234.5" stroke="#111" stroke-width="1.4"/>
<circle cx="680.1" cy="198.5" r="2.6" fill="#fff" stroke="#111" stroke-width="1.1"/>
<circle cx="63.6" cy="253.8" r="2.6" fill="#fff" stroke="#111" stroke-width="1.1"/>
<rect x="61.2" y="265.3" width="5" height="5" fill="#e4e4e4" stroke="#a0a0a0" stroke-width="1"/>
<text x="74.8" y="259.5" font-size="12">h<tspan font-size="8.5" dy="-6.2">2</tspan></text>
<text x="74.9" y="270.9" font-size="11">R<tspan font-size="8.7" dy="2.4">G</tspan></text>
<line x1="36.95" x2="36.95" y1="13.5" y2="138.6" stroke="#333" stroke-width="1.5"/>
<line x1="41.6" x2="161.2" y1="138.6" y2="138.6" stroke="#111" stroke-width="1.2"/>
<line x1="41.6" x2="41.6" y1="138.6" y2="142.6" stroke="#111" stroke-width="1.2"/>
<line x1="101.4" x2="101.4" y1="138.6" y2="142.6" stroke="#111" stroke-width="1.2"/>
<line x1="161.2" x2="161.2" y1="138.6" y2="142.6" stroke="#111" stroke-width="1.2"/>
<line x1="32.800000000000004" x2="36.6" y1="38.5" y2="38.5" stroke="#111" stroke-width="1.1"/>
<text x="30.60" y="42.40" text-anchor="end" font-size="11">5</text>
<line x1="32.800000000000004" x2="36.6" y1="73.1" y2="73.1" stroke="#111" stroke-width="1.1"/>
<text x="30.60" y="77.00" text-anchor="end" font-size="11">0</text>
<line x1="32.800000000000004" x2="36.6" y1="107.69999999999999" y2="107.69999999999999" stroke="#111" stroke-width="1.1"/>
<text x="30.60" y="111.60" text-anchor="end" font-size="11">−5</text>
<line x1="207.85" x2="207.85" y1="13.5" y2="138.6" stroke="#333" stroke-width="1.5"/>
<line x1="212.5" x2="332.1" y1="138.6" y2="138.6" stroke="#111" stroke-width="1.2"/>
<line x1="212.5" x2="212.5" y1="138.6" y2="142.6" stroke="#111" stroke-width="1.2"/>
<line x1="272.3" x2="272.3" y1="138.6" y2="142.6" stroke="#111" stroke-width="1.2"/>
<line x1="332.1" x2="332.1" y1="138.6" y2="142.6" stroke="#111" stroke-width="1.2"/>
<line x1="203.7" x2="207.5" y1="29.89999999999999" y2="29.89999999999999" stroke="#111" stroke-width="1.1"/>
<text x="201.50" y="33.80" text-anchor="end" font-size="11">10</text>
<line x1="203.7" x2="207.5" y1="57.99999999999999" y2="57.99999999999999" stroke="#111" stroke-width="1.1"/>
<text x="201.50" y="61.90" text-anchor="end" font-size="11">5</text>
<line x1="203.7" x2="207.5" y1="86.1" y2="86.1" stroke="#111" stroke-width="1.1"/>
<text x="201.50" y="90.00" text-anchor="end" font-size="11">0</text>
<line x1="203.7" x2="207.5" y1="114.19999999999999" y2="114.19999999999999" stroke="#111" stroke-width="1.1"/>
<text x="201.50" y="118.10" text-anchor="end" font-size="11">−5</text>
<line x1="384.75" x2="384.75" y1="13.5" y2="138.6" stroke="#333" stroke-width="1.5"/>
<line x1="389.4" x2="509.0" y1="138.6" y2="138.6" stroke="#111" stroke-width="1.2"/>
<line x1="389.4" x2="389.4" y1="138.6" y2="142.6" stroke="#111" stroke-width="1.2"/>
<line x1="449.2" x2="449.2" y1="138.6" y2="142.6" stroke="#111" stroke-width="1.2"/>
<line x1="509.0" x2="509.0" y1="138.6" y2="142.6" stroke="#111" stroke-width="1.2"/>
<line x1="380.59999999999997" x2="384.4" y1="40.3" y2="40.3" stroke="#111" stroke-width="1.1"/>
<text x="378.40" y="44.20" text-anchor="end" font-size="11">0.2</text>
<line x1="380.59999999999997" x2="384.4" y1="68.69999999999999" y2="68.69999999999999" stroke="#111" stroke-width="1.1"/>
<text x="378.40" y="72.60" text-anchor="end" font-size="11">0.0</text>
<line x1="380.59999999999997" x2="384.4" y1="97.1" y2="97.1" stroke="#111" stroke-width="1.1"/>
<text x="378.40" y="101.00" text-anchor="end" font-size="11">−0.2</text>
<line x1="380.59999999999997" x2="384.4" y1="125.5" y2="125.5" stroke="#111" stroke-width="1.1"/>
<text x="378.40" y="129.40" text-anchor="end" font-size="11">−0.4</text>
<line x1="555.85" x2="555.85" y1="13.5" y2="138.6" stroke="#333" stroke-width="1.5"/>
<line x1="560.5" x2="680.1" y1="138.6" y2="138.6" stroke="#111" stroke-width="1.2"/>
<line x1="560.5" x2="560.5" y1="138.6" y2="142.6" stroke="#111" stroke-width="1.2"/>
<line x1="620.3" x2="620.3" y1="138.6" y2="142.6" stroke="#111" stroke-width="1.2"/>
<line x1="680.1" x2="680.1" y1="138.6" y2="142.6" stroke="#111" stroke-width="1.2"/>
<line x1="551.7" x2="555.5" y1="21.6" y2="21.6" stroke="#111" stroke-width="1.1"/>
<text x="549.50" y="25.50" text-anchor="end" font-size="11">4</text>
<line x1="551.7" x2="555.5" y1="37.52857142857143" y2="37.52857142857143" stroke="#111" stroke-width="1.1"/>
<text x="549.50" y="41.43" text-anchor="end" font-size="11">3</text>
<line x1="551.7" x2="555.5" y1="53.457142857142856" y2="53.457142857142856" stroke="#111" stroke-width="1.1"/>
<text x="549.50" y="57.36" text-anchor="end" font-size="11">2</text>
<line x1="551.7" x2="555.5" y1="69.38571428571429" y2="69.38571428571429" stroke="#111" stroke-width="1.1"/>
<text x="549.50" y="73.29" text-anchor="end" font-size="11">1</text>
<line x1="551.7" x2="555.5" y1="85.31428571428572" y2="85.31428571428572" stroke="#111" stroke-width="1.1"/>
<text x="549.50" y="89.21" text-anchor="end" font-size="11">0</text>
<line x1="551.7" x2="555.5" y1="101.24285714285713" y2="101.24285714285713" stroke="#111" stroke-width="1.1"/>
<text x="549.50" y="105.14" text-anchor="end" font-size="11">−1</text>
<line x1="551.7" x2="555.5" y1="117.17142857142858" y2="117.17142857142858" stroke="#111" stroke-width="1.1"/>
<text x="549.50" y="121.07" text-anchor="end" font-size="11">−2</text>
<line x1="551.7" x2="555.5" y1="133.1" y2="133.1" stroke="#111" stroke-width="1.1"/>
<text x="549.50" y="137.00" text-anchor="end" font-size="11">−3</text>
<line x1="36.95" x2="36.95" y1="157.39999999999998" y2="282.8" stroke="#333" stroke-width="1.5"/>
<line x1="41.6" x2="161.2" y1="282.8" y2="282.8" stroke="#111" stroke-width="1.2"/>
<line x1="41.6" x2="41.6" y1="282.8" y2="286.8" stroke="#111" stroke-width="1.2"/>
<line x1="101.4" x2="101.4" y1="282.8" y2="286.8" stroke="#111" stroke-width="1.2"/>
<line x1="161.2" x2="161.2" y1="282.8" y2="286.8" stroke="#111" stroke-width="1.2"/>
<line x1="32.800000000000004" x2="36.6" y1="163.6" y2="163.6" stroke="#111" stroke-width="1.1"/>
<text x="30.60" y="167.50" text-anchor="end" font-size="11">1.0</text>
<line x1="32.800000000000004" x2="36.6" y1="186.2" y2="186.2" stroke="#111" stroke-width="1.1"/>
<text x="30.60" y="190.10" text-anchor="end" font-size="11">0.8</text>
<line x1="32.800000000000004" x2="36.6" y1="208.8" y2="208.8" stroke="#111" stroke-width="1.1"/>
<text x="30.60" y="212.70" text-anchor="end" font-size="11">0.6</text>
<line x1="32.800000000000004" x2="36.6" y1="231.4" y2="231.4" stroke="#111" stroke-width="1.1"/>
<text x="30.60" y="235.30" text-anchor="end" font-size="11">0.4</text>
<line x1="32.800000000000004" x2="36.6" y1="254.0" y2="254.0" stroke="#111" stroke-width="1.1"/>
<text x="30.60" y="257.90" text-anchor="end" font-size="11">0.2</text>
<line x1="32.800000000000004" x2="36.6" y1="276.6" y2="276.6" stroke="#111" stroke-width="1.1"/>
<text x="30.60" y="280.50" text-anchor="end" font-size="11">0.0</text>
<line x1="207.85" x2="207.85" y1="157.39999999999998" y2="282.8" stroke="#333" stroke-width="1.5"/>
<line x1="212.5" x2="332.1" y1="282.8" y2="282.8" stroke="#111" stroke-width="1.2"/>
<line x1="212.5" x2="212.5" y1="282.8" y2="286.8" stroke="#111" stroke-width="1.2"/>
<line x1="272.3" x2="272.3" y1="282.8" y2="286.8" stroke="#111" stroke-width="1.2"/>
<line x1="332.1" x2="332.1" y1="282.8" y2="286.8" stroke="#111" stroke-width="1.2"/>
<line x1="203.7" x2="207.5" y1="163.6" y2="163.6" stroke="#111" stroke-width="1.1"/>
<text x="201.50" y="167.50" text-anchor="end" font-size="11">1.0</text>
<line x1="203.7" x2="207.5" y1="186.2" y2="186.2" stroke="#111" stroke-width="1.1"/>
<text x="201.50" y="190.10" text-anchor="end" font-size="11">0.8</text>
<line x1="203.7" x2="207.5" y1="208.8" y2="208.8" stroke="#111" stroke-width="1.1"/>
<text x="201.50" y="212.70" text-anchor="end" font-size="11">0.6</text>
<line x1="203.7" x2="207.5" y1="231.4" y2="231.4" stroke="#111" stroke-width="1.1"/>
<text x="201.50" y="235.30" text-anchor="end" font-size="11">0.4</text>
<line x1="203.7" x2="207.5" y1="254.0" y2="254.0" stroke="#111" stroke-width="1.1"/>
<text x="201.50" y="257.90" text-anchor="end" font-size="11">0.2</text>
<line x1="203.7" x2="207.5" y1="276.6" y2="276.6" stroke="#111" stroke-width="1.1"/>
<text x="201.50" y="280.50" text-anchor="end" font-size="11">0.0</text>
<line x1="384.75" x2="384.75" y1="157.39999999999998" y2="282.8" stroke="#333" stroke-width="1.5"/>
<line x1="389.4" x2="509.0" y1="282.8" y2="282.8" stroke="#111" stroke-width="1.2"/>
<line x1="389.4" x2="389.4" y1="282.8" y2="286.8" stroke="#111" stroke-width="1.2"/>
<line x1="449.2" x2="449.2" y1="282.8" y2="286.8" stroke="#111" stroke-width="1.2"/>
<line x1="509.0" x2="509.0" y1="282.8" y2="286.8" stroke="#111" stroke-width="1.2"/>
<line x1="380.59999999999997" x2="384.4" y1="163.6" y2="163.6" stroke="#111" stroke-width="1.1"/>
<text x="378.40" y="167.50" text-anchor="end" font-size="11">1.0</text>
<line x1="380.59999999999997" x2="384.4" y1="186.2" y2="186.2" stroke="#111" stroke-width="1.1"/>
<text x="378.40" y="190.10" text-anchor="end" font-size="11">0.8</text>
<line x1="380.59999999999997" x2="384.4" y1="208.8" y2="208.8" stroke="#111" stroke-width="1.1"/>
<text x="378.40" y="212.70" text-anchor="end" font-size="11">0.6</text>
<line x1="380.59999999999997" x2="384.4" y1="231.4" y2="231.4" stroke="#111" stroke-width="1.1"/>
<text x="378.40" y="235.30" text-anchor="end" font-size="11">0.4</text>
<line x1="380.59999999999997" x2="384.4" y1="254.0" y2="254.0" stroke="#111" stroke-width="1.1"/>
<text x="378.40" y="257.90" text-anchor="end" font-size="11">0.2</text>
<line x1="380.59999999999997" x2="384.4" y1="276.6" y2="276.6" stroke="#111" stroke-width="1.1"/>
<text x="378.40" y="280.50" text-anchor="end" font-size="11">0.0</text>
<line x1="555.85" x2="555.85" y1="157.39999999999998" y2="282.8" stroke="#333" stroke-width="1.5"/>
<line x1="560.5" x2="680.1" y1="282.8" y2="282.8" stroke="#111" stroke-width="1.2"/>
<line x1="560.5" x2="560.5" y1="282.8" y2="286.8" stroke="#111" stroke-width="1.2"/>
<line x1="620.3" x2="620.3" y1="282.8" y2="286.8" stroke="#111" stroke-width="1.2"/>
<line x1="680.1" x2="680.1" y1="282.8" y2="286.8" stroke="#111" stroke-width="1.2"/>
<line x1="551.7" x2="555.5" y1="163.6" y2="163.6" stroke="#111" stroke-width="1.1"/>
<text x="549.50" y="167.50" text-anchor="end" font-size="11">1.0</text>
<line x1="551.7" x2="555.5" y1="186.2" y2="186.2" stroke="#111" stroke-width="1.1"/>
<text x="549.50" y="190.10" text-anchor="end" font-size="11">0.8</text>
<line x1="551.7" x2="555.5" y1="208.8" y2="208.8" stroke="#111" stroke-width="1.1"/>
<text x="549.50" y="212.70" text-anchor="end" font-size="11">0.6</text>
<line x1="551.7" x2="555.5" y1="231.4" y2="231.4" stroke="#111" stroke-width="1.1"/>
<text x="549.50" y="235.30" text-anchor="end" font-size="11">0.4</text>
<line x1="551.7" x2="555.5" y1="254.0" y2="254.0" stroke="#111" stroke-width="1.1"/>
<text x="549.50" y="257.90" text-anchor="end" font-size="11">0.2</text>
<line x1="551.7" x2="555.5" y1="276.6" y2="276.6" stroke="#111" stroke-width="1.1"/>
<text x="549.50" y="280.50" text-anchor="end" font-size="11">0.0</text>
<text x="41.60" y="299.3" text-anchor="middle" font-size="11">Cold</text>
<text x="101.40" y="299.3" text-anchor="middle" font-size="11">Optimum</text>
<text x="161.20" y="299.3" text-anchor="middle" font-size="11">Warm</text>
<text x="212.50" y="299.3" text-anchor="middle" font-size="11">Cold</text>
<text x="272.30" y="299.3" text-anchor="middle" font-size="11">Optimum</text>
<text x="332.10" y="299.3" text-anchor="middle" font-size="11">Warm</text>
<text x="389.40" y="299.3" text-anchor="middle" font-size="11">Cold</text>
<text x="449.20" y="299.3" text-anchor="middle" font-size="11">Optimum</text>
<text x="509.00" y="299.3" text-anchor="middle" font-size="11">Warm</text>
<text x="560.50" y="299.3" text-anchor="middle" font-size="11">Cold</text>
<text x="620.30" y="299.3" text-anchor="middle" font-size="11">Optimum</text>
<text x="685.3" y="299.3" text-anchor="end" font-size="11">Warm</text>
<text x="358.4" y="312.2" text-anchor="middle" font-size="12">Temperature regime</text>
<text x="0" y="9.6" font-size="14">A</text>
<text x="171" y="9.6" font-size="14">B</text>
<text x="342" y="9.6" font-size="14">C</text>
<text x="519.5" y="9.6" font-size="14">D</text>
<text x="0.5" y="153.5" font-size="14">E</text>
<text x="171" y="153.5" font-size="14">F</text>
<text x="342" y="153.5" font-size="14">G</text>
<text x="519.5" y="153.5" font-size="14">H</text>
<text transform="translate(15.3,75.9) rotate(-90)" text-anchor="middle" font-size="12">PBV length (%)</text>
<text transform="translate(185.5,75.9) rotate(-90)" text-anchor="middle" font-size="12">PBV condition (%)</text>
<text transform="translate(354.0,75.9) rotate(-90)" text-anchor="middle" font-size="12">PBV CT<tspan font-size="8.5" dy="3">max</tspan><tspan dy="-3"> (C°)</tspan></text>
<text transform="translate(533.5,75.9) rotate(-90)" text-anchor="middle" font-size="12">PBV hct (%)</text>
<text transform="translate(13.0,219.95) rotate(-90)" text-anchor="middle" font-size="12">h<tspan font-size="8.5" dy="-5">2</tspan><tspan dy="5"> or R</tspan><tspan font-size="8.5" dy="3">G</tspan><tspan dy="-3"> length</tspan></text>
<text transform="translate(184.0,219.95) rotate(-90)" text-anchor="middle" font-size="12">h<tspan font-size="8.5" dy="-5">2</tspan><tspan dy="5"> or R</tspan><tspan font-size="8.5" dy="3">G</tspan><tspan dy="-3"> condition</tspan></text>
<text transform="translate(354.0,219.95) rotate(-90)" text-anchor="middle" font-size="12">h<tspan font-size="8.5" dy="-5">2</tspan><tspan dy="5"> or R</tspan><tspan font-size="8.5" dy="3">G</tspan><tspan dy="-3"> CT<tspan font-size="8.5" dy="3">max</tspan></tspan></text>
<text transform="translate(533.0,219.95) rotate(-90)" text-anchor="middle" font-size="12">h<tspan font-size="8.5" dy="-5">2</tspan><tspan dy="5"> or R</tspan><tspan font-size="8.5" dy="3">G</tspan><tspan dy="-3"> hct</tspan></text>
</svg>
</body></html>
